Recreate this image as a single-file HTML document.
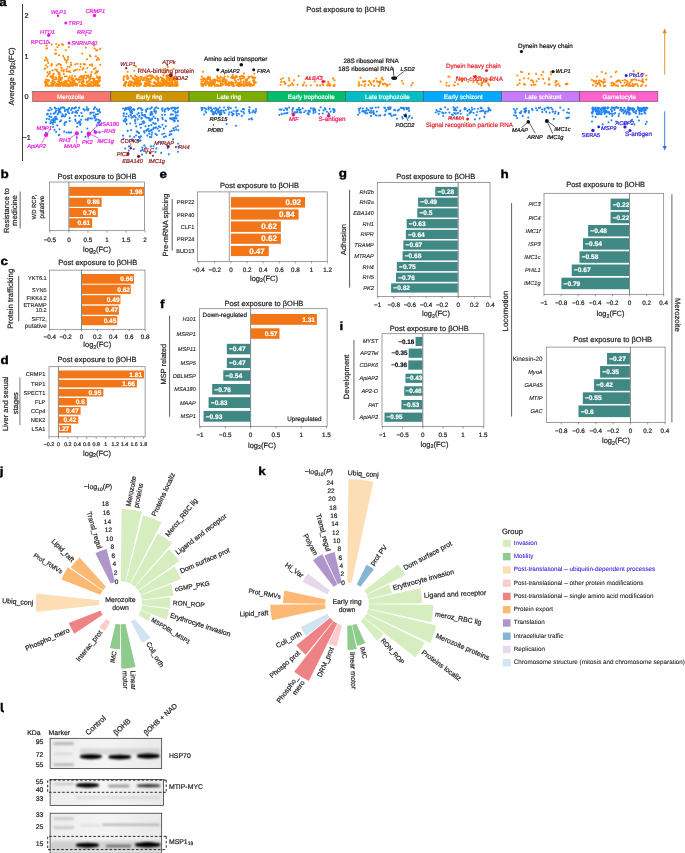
<!DOCTYPE html>
<html><head><meta charset="utf-8"><title>Figure</title>
<style>html,body{margin:0;padding:0;background:#fff;}body{width:685px;height:853px;overflow:hidden;font-family:"Liberation Sans", sans-serif;}svg{display:block;text-rendering:geometricPrecision;will-change:transform;transform:translateZ(0)}text{stroke-width:.2px}</style>
</head><body>
<svg width="685" height="853" viewBox="0 0 685 853" font-family='"Liberation Sans", sans-serif' fill="#222" stroke="#222" stroke-width="0">
<text transform="translate(-0.80 6.30) scale(1.16 1)" font-size="11.6" font-weight="bold" fill="#000" stroke="#000" style="stroke-width:.35px">a</text>
<text x="345.70" y="12.00" font-size="7.5" text-anchor="middle">Post exposure to βOHB</text>
<line x1="22.50" y1="4.00" x2="22.50" y2="161.00" stroke="#222" stroke-width="0.9"/>
<text x="26.60" y="18.00" font-size="7.2" text-anchor="middle">2</text>
<text x="26.60" y="58.50" font-size="7.2" text-anchor="middle">1</text>
<text x="26.60" y="99.00" font-size="7.2" text-anchor="middle">0</text>
<text x="26.60" y="139.50" font-size="7.2" text-anchor="middle">−1</text>
<text x="14.00" y="76.30" font-size="7.5" text-anchor="middle" transform="rotate(-90.00 14.00 76.30)">Average log<tspan font-size="70%" dy="1.5">2</tspan><tspan dy="-1.5">(FC)</tspan></text>
<rect x="32.70" y="91.30" width="78.15" height="10.30" fill="#F8766D" stroke="#444" stroke-width="0.5"/>
<text x="70.78" y="98.60" font-size="6.25" text-anchor="middle" fill="#fff" stroke="#fff">Merozoite</text>
<rect x="110.85" y="91.30" width="78.15" height="10.30" fill="#CD9600" stroke="#444" stroke-width="0.5"/>
<text x="149.12" y="98.60" font-size="6.25" text-anchor="middle" fill="#fff" stroke="#fff">Early ring</text>
<rect x="189.00" y="91.30" width="78.15" height="10.30" fill="#7CAE00" stroke="#444" stroke-width="0.5"/>
<text x="228.88" y="98.60" font-size="6.25" text-anchor="middle" fill="#fff" stroke="#fff">Late ring</text>
<rect x="267.15" y="91.30" width="78.15" height="10.30" fill="#00BE67" stroke="#444" stroke-width="0.5"/>
<text x="311.23" y="98.60" font-size="6.25" text-anchor="middle" fill="#fff" stroke="#fff">Early trophozoite</text>
<rect x="345.30" y="91.30" width="78.15" height="10.30" fill="#00BFC4" stroke="#444" stroke-width="0.5"/>
<text x="387.38" y="98.60" font-size="6.25" text-anchor="middle" fill="#fff" stroke="#fff">Late trophozoite</text>
<rect x="423.45" y="91.30" width="78.15" height="10.30" fill="#00A9FF" stroke="#444" stroke-width="0.5"/>
<text x="463.32" y="98.60" font-size="6.25" text-anchor="middle" fill="#fff" stroke="#fff">Early schizont</text>
<rect x="501.60" y="91.30" width="78.15" height="10.30" fill="#C77CFF" stroke="#444" stroke-width="0.5"/>
<text x="543.18" y="98.60" font-size="6.25" text-anchor="middle" fill="#fff" stroke="#fff">Late schizont</text>
<rect x="579.75" y="91.30" width="78.15" height="10.30" fill="#FF61CC" stroke="#444" stroke-width="0.5"/>
<text x="619.23" y="98.60" font-size="6.25" text-anchor="middle" fill="#fff" stroke="#fff">Gametocyte</text>
<path d="M53.1 83.9h0M48.7 80.4h0M65.1 81.7h0M72.9 85.8h0M68.8 85.9h0M49.7 85.7h0M90.7 82.9h0M57.1 85.4h0M97.4 80.7h0M66.8 81.3h0M47.3 76.2h0M60.8 77.8h0M51.3 85.3h0M90.1 84.0h0M77.1 85.1h0M65.4 80.6h0M48.2 81.6h0M56.2 85.8h0M68.5 80.1h0M77.3 84.0h0M61.4 82.6h0M83.6 78.6h0M76.7 84.6h0M93.4 81.9h0M60.7 79.5h0M51.3 76.1h0M86.8 83.0h0M71.9 85.3h0M81.9 85.9h0M76.6 79.0h0M62.2 77.6h0M77.8 79.9h0M70.1 81.3h0M97.3 78.0h0M81.7 82.4h0M83.7 85.8h0M100.0 80.5h0M60.5 78.3h0M81.9 83.3h0M70.4 85.9h0M51.2 85.1h0M87.5 85.8h0M58.5 85.4h0M93.2 83.3h0M69.7 85.7h0M93.9 81.6h0M92.8 78.3h0M67.8 84.3h0M93.9 83.6h0M53.1 76.4h0M57.6 85.1h0M71.7 84.7h0M59.3 81.1h0M68.0 86.0h0M76.2 83.5h0M83.1 76.5h0M79.1 82.0h0M47.7 80.1h0M88.1 77.2h0M89.1 77.6h0M66.9 83.2h0M80.0 85.6h0M48.4 85.8h0M53.7 84.8h0M47.6 83.7h0M53.1 86.0h0M64.9 85.6h0M93.4 85.9h0M53.0 80.9h0M64.0 84.5h0M51.5 83.5h0M100.0 77.9h0M71.6 82.5h0M50.4 85.6h0M59.4 83.7h0M53.7 78.2h0M97.6 85.9h0M52.9 81.8h0M46.2 81.7h0M99.2 81.8h0M83.4 77.7h0M65.1 84.4h0M87.7 85.1h0M88.1 81.8h0M57.1 83.8h0M99.5 78.4h0M89.6 77.9h0M85.9 78.3h0M73.5 84.7h0M46.3 83.6h0M60.2 85.9h0M83.2 84.4h0M69.6 76.5h0M99.7 76.7h0M65.0 76.5h0M57.3 84.8h0M56.1 84.9h0M94.8 80.7h0M71.4 78.0h0M89.2 80.4h0M81.5 85.7h0M88.2 77.1h0M71.3 79.2h0M88.6 85.1h0M89.3 83.8h0M66.7 76.2h0M97.4 83.2h0M54.2 79.5h0M53.1 85.4h0M89.6 77.2h0M90.7 85.3h0M81.3 76.1h0M75.2 83.6h0M45.5 85.4h0M80.9 76.3h0M96.7 81.8h0M93.2 82.8h0M56.4 78.2h0M61.0 84.5h0M77.3 84.6h0M68.0 84.4h0M95.3 85.4h0M70.2 83.6h0M95.0 81.2h0M95.8 83.0h0M74.3 82.1h0M45.7 81.9h0M54.9 82.8h0M89.2 86.0h0M71.0 85.1h0M75.7 79.5h0M73.5 83.9h0M88.3 81.5h0M75.9 85.5h0M60.1 84.5h0M73.0 78.9h0M87.0 81.5h0M69.4 77.1h0M72.8 80.9h0M83.3 82.0h0M74.4 82.6h0M97.1 82.4h0M93.5 79.8h0M59.1 76.7h0M97.2 81.5h0M52.3 78.0h0M69.3 85.4h0M58.1 85.7h0M82.0 85.7h0M94.6 78.8h0M84.6 85.2h0M52.7 80.3h0M98.5 77.5h0M97.7 84.8h0M71.8 83.2h0M91.0 76.0h0M68.7 85.2h0M63.6 82.0h0M62.4 84.9h0M45.8 79.6h0M69.2 81.5h0M63.1 85.9h0M73.2 80.7h0M99.5 85.8h0M98.8 78.7h0M59.5 85.5h0M88.1 85.9h0M51.9 84.4h0M95.4 82.9h0M59.1 78.3h0M95.9 85.3h0M83.7 81.4h0M47.9 85.6h0M68.4 80.0h0M96.9 85.7h0M89.3 80.6h0M92.3 85.7h0M92.7 85.7h0M63.6 82.6h0M96.3 81.6h0M51.9 84.4h0M58.0 81.8h0M53.7 85.5h0M55.9 85.8h0M61.7 84.0h0M60.8 79.1h0M54.6 82.1h0M45.7 83.7h0M45.6 84.5h0M75.4 79.4h0M71.1 85.0h0M50.6 76.8h0M68.8 78.3h0M91.1 82.2h0M72.9 83.2h0M99.4 80.0h0M91.0 83.7h0M80.1 79.7h0M64.0 83.1h0M51.9 85.8h0M85.9 85.7h0M53.8 84.5h0M91.5 85.7h0M82.0 77.6h0M58.2 84.3h0M70.3 84.2h0M69.5 85.2h0M98.2 84.4h0M75.1 76.2h0M98.4 84.6h0M64.5 84.0h0M65.9 86.0h0M72.7 82.4h0M72.8 84.9h0M59.4 86.0h0M66.9 85.6h0M46.0 85.9h0M57.7 84.1h0M74.1 81.2h0M81.3 79.2h0M93.6 79.6h0M62.8 83.3h0M53.0 76.1h0M80.5 79.5h0M91.2 85.8h0M79.6 77.3h0M89.9 79.4h0M73.8 85.3h0M91.2 82.1h0M90.7 78.5h0M94.4 81.2h0M83.3 80.0h0M46.4 84.7h0M64.8 85.4h0M91.2 85.5h0M79.6 81.5h0M82.6 80.7h0M44.9 82.3h0M86.3 78.6h0M74.5 82.1h0M48.4 80.3h0M58.7 79.4h0M59.5 85.7h0M56.1 79.5h0M99.0 79.3h0M66.0 82.2h0M82.7 82.4h0M79.0 79.0h0M49.0 80.5h0M58.8 85.3h0M61.6 79.3h0M45.4 81.4h0M59.7 85.8h0M83.2 80.2h0M60.9 80.1h0M70.6 82.0h0M51.3 82.5h0M55.8 77.3h0M96.8 76.2h0M70.2 85.9h0M98.6 78.3h0M59.7 82.7h0M97.3 84.8h0M77.1 84.8h0M73.9 85.3h0M52.1 76.5h0M73.0 78.3h0M83.8 77.4h0M94.7 84.7h0M46.1 82.3h0M72.1 75.8h0M61.5 70.4h0M63.8 74.1h0M91.5 72.0h0M86.5 75.8h0M51.4 65.7h0M84.4 64.6h0M60.8 64.9h0M66.6 71.3h0M77.5 63.7h0M68.5 71.5h0M47.4 72.5h0M91.1 74.6h0M96.8 72.4h0M59.5 72.8h0M55.3 69.6h0M97.9 71.3h0M89.9 65.1h0M95.5 68.2h0M75.3 64.4h0M47.5 67.1h0M69.8 67.0h0M80.6 66.7h0M47.4 72.4h0M51.8 64.6h0M63.8 70.1h0M85.8 72.2h0M59.2 64.0h0M61.4 67.9h0M66.6 69.1h0M53.7 73.8h0M95.1 73.3h0M56.9 69.8h0M100.2 64.8h0M52.5 70.4h0M49.7 73.5h0M49.8 71.7h0M59.1 72.9h0M94.1 68.9h0M67.7 66.7h0M73.9 70.8h0M63.5 71.3h0M60.1 75.1h0M51.7 64.1h0M79.7 69.7h0M56.7 65.4h0M58.5 72.6h0M69.5 71.0h0M91.9 64.3h0M45.9 65.2h0M84.2 75.5h0M71.0 65.0h0M44.7 68.7h0M96.3 71.1h0M92.3 65.8h0M58.5 64.0h0M53.3 74.5h0M82.7 69.5h0M84.9 64.4h0M87.3 68.0h0M75.4 70.3h0M88.2 75.4h0M95.9 73.0h0M61.6 68.0h0M58.7 74.3h0M83.6 68.1h0M48.6 74.5h0M77.1 69.5h0M57.1 71.1h0M45.3 68.5h0M70.3 72.2h0M80.6 64.2h0M71.2 65.1h0M58.4 73.0h0M83.9 64.2h0M45.9 57.5h0M82.2 53.6h0M59.0 55.2h0M96.2 50.2h0M46.6 59.1h0M68.1 56.9h0M55.7 49.9h0M85.8 47.6h0M56.1 53.5h0M62.0 44.1h0M57.5 47.1h0M87.0 59.2h0M97.7 57.7h0M55.1 53.7h0M67.9 59.2h0M97.5 50.2h0M66.6 60.7h0M98.9 59.4h0M47.6 60.8h0M66.6 62.5h0M93.9 45.5h0M100.2 48.9h0M63.0 44.8h0M96.8 59.9h0M46.5 48.6h0M65.8 50.2h0M63.2 56.1h0M44.9 60.3h0M64.3 58.0h0M51.6 44.4h0M56.2 44.2h0M90.4 56.5h0M68.8 47.1h0M71.0 62.7h0M95.9 56.2h0M65.0 59.8h0M46.4 45.5h0M89.9 55.4h0M47.0 48.2h0M48.2 63.0h0M59.0 45.1h0M94.7 48.6h0M173.1 84.4h0M152.4 85.8h0M136.1 82.9h0M166.2 85.8h0M153.5 86.0h0M130.8 75.9h0M156.7 84.8h0M158.6 81.8h0M132.6 77.8h0M139.6 83.9h0M172.3 85.8h0M162.7 78.2h0M169.8 86.0h0M148.7 78.7h0M148.0 78.8h0M128.7 84.6h0M125.0 84.6h0M164.6 83.6h0M169.9 79.4h0M137.7 79.2h0M147.1 81.2h0M152.0 78.1h0M158.6 84.3h0M134.9 75.6h0M123.7 76.8h0M136.0 84.3h0M175.4 78.7h0M141.0 78.7h0M141.1 76.8h0M173.4 84.5h0M161.4 80.2h0M177.3 79.8h0M169.6 82.2h0M170.6 79.4h0M163.2 82.5h0M140.0 81.0h0M157.5 84.7h0M173.5 85.7h0M124.3 85.2h0M174.5 85.5h0M130.7 83.5h0M125.2 85.9h0M158.1 79.4h0M163.9 79.4h0M155.7 85.7h0M168.3 83.3h0M172.4 77.7h0M171.1 85.7h0M175.4 76.3h0M134.3 85.5h0M124.8 85.5h0M168.0 77.3h0M168.8 80.2h0M138.8 80.2h0M128.3 85.5h0M134.3 78.6h0M146.4 83.8h0M137.1 85.9h0M162.7 84.1h0M140.7 83.3h0M150.9 75.6h0M157.3 77.2h0M145.8 85.9h0M165.9 82.5h0M162.1 83.5h0M134.9 81.4h0M127.9 77.1h0M132.3 77.7h0M134.1 86.0h0M177.3 78.5h0M150.2 86.0h0M167.2 81.9h0M150.4 84.9h0M169.1 83.5h0M175.4 84.3h0M134.8 84.1h0M150.6 79.3h0M158.3 85.5h0M166.7 85.7h0M166.6 79.4h0M142.6 80.3h0M144.8 82.9h0M127.6 76.7h0M124.3 76.7h0M137.5 84.8h0M150.7 76.5h0M172.0 83.2h0M148.5 84.5h0M164.8 81.5h0M158.8 78.6h0M141.0 83.5h0M169.8 85.2h0M164.1 79.8h0M147.3 85.1h0M155.1 78.3h0M148.6 85.4h0M136.1 76.8h0M139.6 84.9h0M169.8 79.3h0M131.5 85.2h0M141.0 84.4h0M131.8 81.6h0M133.4 83.7h0M163.4 75.4h0M176.4 85.5h0M144.2 85.5h0M167.1 75.3h0M147.1 78.9h0M158.4 84.9h0M134.3 85.5h0M124.7 83.1h0M166.9 83.0h0M150.7 79.4h0M148.6 80.2h0M156.4 85.3h0M164.1 82.9h0M146.8 76.4h0M164.5 80.9h0M135.6 82.7h0M171.8 79.0h0M161.8 78.3h0M160.7 77.2h0M148.1 80.1h0M157.8 83.8h0M146.2 85.6h0M162.5 78.2h0M136.8 80.3h0M148.2 82.7h0M145.6 80.4h0M174.6 79.7h0M159.3 85.0h0M144.5 78.3h0M177.1 81.9h0M153.1 85.9h0M166.4 85.1h0M151.7 75.9h0M154.8 85.5h0M162.8 81.3h0M158.4 81.7h0M151.9 77.6h0M175.6 82.8h0M160.9 84.7h0M165.3 83.0h0M177.6 85.4h0M126.0 83.4h0M145.1 84.2h0M146.1 85.9h0M161.7 82.7h0M137.6 83.4h0M164.1 84.6h0M152.2 75.9h0M167.5 84.7h0M134.6 83.0h0M166.1 85.4h0M158.1 77.8h0M154.1 82.2h0M176.5 84.6h0M158.4 83.4h0M168.3 77.7h0M139.2 82.2h0M129.8 81.3h0M142.6 77.5h0M137.7 77.3h0M137.0 83.2h0M133.2 82.7h0M163.0 86.0h0M136.5 84.1h0M149.5 83.9h0M158.3 82.6h0M143.0 79.9h0M170.4 76.1h0M168.9 85.8h0M166.5 76.5h0M169.1 85.3h0M123.7 80.2h0M175.8 86.0h0M136.8 79.9h0M130.8 85.5h0M166.1 84.5h0M131.3 83.5h0M166.9 76.5h0M172.4 85.1h0M166.3 80.5h0M172.6 79.8h0M169.5 78.1h0M161.4 84.8h0M164.1 81.5h0M172.0 82.5h0M137.6 81.2h0M130.6 84.5h0M126.1 81.9h0M130.9 82.2h0M150.6 81.9h0M170.9 81.4h0M169.6 86.0h0M154.2 82.2h0M169.6 79.8h0M146.2 83.2h0M127.0 75.6h0M158.3 80.2h0M156.8 85.9h0M174.7 79.6h0M177.5 83.7h0M149.8 81.7h0M124.7 76.6h0M157.6 79.1h0M170.8 83.6h0M149.3 83.3h0M165.7 81.5h0M147.1 84.7h0M153.7 82.7h0M139.1 77.6h0M145.3 77.6h0M138.0 81.8h0M177.1 81.8h0M166.9 79.9h0M140.5 83.7h0M155.5 84.0h0M166.5 80.2h0M163.1 85.9h0M153.2 76.8h0M139.6 85.8h0M133.4 86.0h0M156.7 76.2h0M166.8 79.9h0M156.9 76.4h0M157.7 80.4h0M156.0 79.4h0M134.7 79.6h0M148.3 79.8h0M128.5 78.5h0M124.9 85.0h0M173.7 78.3h0M143.4 79.9h0M166.6 77.7h0M137.2 81.1h0M146.3 83.9h0M146.8 83.8h0M174.8 80.1h0M154.4 85.8h0M129.5 85.9h0M154.9 77.8h0M147.7 76.3h0M144.4 85.9h0M175.0 80.7h0M149.3 75.3h0M128.5 82.8h0M134.7 80.1h0M123.7 85.2h0M160.9 86.0h0M176.6 85.4h0M171.2 85.6h0M123.8 85.4h0M136.3 79.1h0M133.3 78.9h0M165.9 85.8h0M170.5 79.2h0M127.5 78.9h0M162.3 80.3h0M174.7 82.3h0M176.5 84.4h0M123.5 79.1h0M159.1 85.9h0M127.3 77.7h0M163.4 83.8h0M170.8 85.1h0M126.2 82.0h0M154.8 83.3h0M160.5 82.5h0M167.2 85.2h0M158.7 83.3h0M146.1 80.3h0M166.6 83.1h0M166.5 75.9h0M139.1 81.0h0M177.1 85.8h0M168.9 79.3h0M156.6 83.6h0M169.1 75.4h0M140.0 80.6h0M172.3 82.6h0M161.0 83.2h0M172.7 80.6h0M138.6 77.9h0M137.5 86.0h0M155.5 82.7h0M172.2 77.7h0M169.2 85.8h0M171.1 77.8h0M138.1 81.0h0M167.8 67.1h0M173.7 68.7h0M127.6 71.8h0M167.2 69.9h0M164.6 73.2h0M135.9 66.4h0M160.6 69.4h0M134.3 70.7h0M250.6 85.8h0M254.4 81.2h0M235.5 82.8h0M203.4 84.5h0M248.6 76.8h0M251.0 84.0h0M217.9 78.4h0M254.4 81.0h0M253.9 82.2h0M222.7 84.6h0M213.3 79.6h0M249.7 84.0h0M245.1 82.3h0M210.7 84.6h0M211.4 83.6h0M217.2 76.3h0M207.4 81.5h0M222.5 81.8h0M204.6 83.1h0M247.0 85.4h0M214.6 83.6h0M216.8 85.0h0M202.9 84.6h0M220.0 80.3h0M240.3 85.2h0M216.0 85.6h0M208.1 78.1h0M247.5 82.7h0M209.9 78.5h0M241.2 83.6h0M254.3 83.4h0M253.9 84.9h0M213.6 82.1h0M208.3 82.6h0M215.5 79.8h0M233.7 77.2h0M214.7 83.5h0M212.8 80.9h0M207.8 77.6h0M231.2 82.0h0M243.9 84.4h0M237.6 83.3h0M218.3 81.4h0M205.8 83.3h0M248.4 85.1h0M237.9 83.9h0M232.3 85.5h0M228.8 83.5h0M204.7 84.1h0M213.6 84.0h0M240.9 85.4h0M223.4 84.3h0M244.1 77.1h0M248.9 77.5h0M216.4 85.4h0M238.8 85.9h0M220.6 80.3h0M237.7 83.0h0M214.8 79.8h0M220.6 78.0h0M211.1 80.7h0M251.8 85.5h0M240.7 79.4h0M203.2 85.9h0M212.0 85.2h0M222.2 84.1h0M218.3 85.9h0M211.0 80.6h0M232.7 78.1h0M215.2 79.6h0M239.1 82.8h0M201.1 83.7h0M244.2 78.1h0M203.4 84.2h0M234.8 77.9h0M214.6 85.8h0M245.0 85.5h0M251.9 84.8h0M205.8 79.2h0M222.9 79.9h0M247.1 79.2h0M206.0 84.3h0M224.6 76.6h0M239.5 76.8h0M247.2 79.4h0M226.2 80.7h0M239.9 85.8h0M229.5 82.9h0M208.1 76.9h0M203.4 79.1h0M245.8 79.8h0M231.4 84.4h0M236.5 76.3h0M214.9 81.7h0M220.9 85.8h0M212.2 83.1h0M208.6 84.0h0M238.3 79.7h0M214.5 84.6h0M225.8 82.0h0M220.6 76.7h0M250.2 84.1h0M232.3 85.3h0M246.4 83.8h0M243.3 81.6h0M238.1 85.1h0M226.7 81.0h0M247.3 79.0h0M217.1 85.5h0M212.5 83.5h0M216.6 85.8h0M240.0 84.9h0M207.3 82.7h0M227.1 83.9h0M210.4 83.5h0M201.6 85.7h0M242.8 76.0h0M240.9 85.7h0M232.4 76.1h0M228.2 85.5h0M211.6 82.8h0M201.5 81.7h0M236.9 77.0h0M253.0 80.7h0M215.0 80.4h0M208.7 84.6h0M244.1 85.9h0M217.5 78.0h0M236.5 85.0h0M252.6 78.0h0M244.7 85.1h0M242.3 78.2h0M211.3 83.9h0M218.8 78.2h0M231.7 83.5h0M247.3 83.5h0M203.3 84.6h0M236.0 81.4h0M240.3 78.3h0M253.6 77.2h0M228.8 82.2h0M217.7 85.2h0M205.5 81.2h0M210.1 80.0h0M255.0 82.7h0M203.2 85.6h0M211.6 82.8h0M201.2 79.5h0M248.6 78.0h0M224.7 78.7h0M237.8 84.2h0M224.4 82.0h0M225.4 83.8h0M247.0 80.2h0M210.2 77.2h0M225.7 84.1h0M220.4 81.4h0M205.7 84.9h0M226.6 83.9h0M251.6 76.3h0M255.2 77.7h0M235.5 76.4h0M204.3 78.4h0M234.9 80.1h0M232.8 84.1h0M227.8 76.5h0M217.7 80.5h0M250.3 83.7h0M211.5 85.9h0M225.9 80.1h0M237.8 85.7h0M233.3 83.4h0M230.5 83.0h0M223.1 81.4h0M211.0 85.5h0M231.5 77.4h0M249.0 85.5h0M206.3 84.5h0M215.0 81.8h0M231.8 82.3h0M232.9 84.7h0M229.6 85.5h0M205.5 81.2h0M205.1 83.1h0M249.1 82.8h0M240.8 81.6h0M207.4 79.1h0M241.2 76.0h0M247.2 85.6h0M210.5 83.2h0M232.3 76.4h0M208.6 78.9h0M204.2 78.9h0M221.7 84.6h0M234.1 85.9h0M217.7 84.8h0M224.7 79.7h0M235.6 77.4h0M232.3 77.6h0M249.5 77.0h0M242.5 85.1h0M243.5 83.7h0M246.9 80.1h0M221.8 85.4h0M253.8 79.4h0M203.4 79.6h0M206.5 81.0h0M245.7 81.6h0M252.5 85.5h0M215.2 80.1h0M225.9 85.0h0M233.4 78.1h0M202.2 85.5h0M245.6 85.5h0M231.8 85.0h0M239.2 84.2h0M209.0 83.4h0M231.0 77.6h0M246.0 80.0h0M201.8 76.6h0M209.4 83.7h0M249.6 82.1h0M203.0 78.6h0M246.5 85.0h0M222.8 80.1h0M209.8 82.4h0M222.9 78.0h0M235.0 77.6h0M219.3 85.7h0M250.8 84.8h0M203.4 81.1h0M221.1 85.1h0M233.1 82.5h0M220.7 83.3h0M233.2 86.0h0M202.1 83.8h0M255.9 82.6h0M209.1 85.8h0M216.2 80.2h0M228.8 84.3h0M232.7 74.8h0M254.3 73.7h0M202.9 71.8h0M243.9 73.6h0M293.2 85.1h0M303.3 84.9h0M290.5 85.1h0M314.9 81.3h0M334.5 84.7h0M310.8 85.2h0M327.2 85.5h0M294.0 80.3h0M324.9 81.4h0M297.6 84.8h0M328.7 83.5h0M317.1 85.4h0M304.4 82.6h0M328.3 82.8h0M328.3 85.2h0M322.5 84.3h0M289.3 80.4h0M334.5 80.4h0M280.5 84.7h0M333.4 85.7h0M329.9 86.0h0M320.1 85.5h0M288.5 85.7h0M284.2 81.9h0M330.3 84.5h0M328.2 81.7h0M281.0 79.3h0M323.2 85.1h0M281.3 81.9h0M292.0 83.3h0M285.0 83.9h0M334.3 85.9h0M328.0 84.6h0M306.3 85.6h0M303.0 85.6h0M317.3 85.4h0M320.2 85.5h0M285.4 83.4h0M306.8 77.9h0M298.6 76.1h0M333.0 78.4h0M319.9 76.2h0M289.0 78.2h0M283.0 78.2h0M307.5 79.0h0M310.1 77.8h0M376.9 81.4h0M389.5 84.4h0M411.4 85.4h0M359.3 84.5h0M378.4 81.9h0M384.9 83.5h0M373.9 80.7h0M383.0 83.9h0M380.4 81.2h0M371.1 83.8h0M403.2 83.6h0M379.7 82.0h0M378.8 85.9h0M363.9 81.8h0M361.6 85.2h0M363.0 81.4h0M358.8 85.8h0M358.8 82.4h0M380.6 82.4h0M412.8 83.1h0M365.4 81.0h0M386.1 84.7h0M364.6 86.0h0M371.5 84.8h0M369.1 81.1h0M374.2 85.9h0M401.9 81.0h0M368.5 85.1h0M387.2 85.9h0M383.1 84.4h0M379.7 83.7h0M358.7 85.3h0M387.0 84.8h0M365.0 84.2h0M373.5 81.6h0M370.0 82.2h0M382.1 77.6h0M360.5 77.8h0M381.5 78.8h0M383.1 79.7h0M376.2 78.5h0M458.1 84.2h0M449.1 85.8h0M473.2 82.0h0M454.6 85.5h0M446.5 85.6h0M453.9 85.2h0M490.9 80.1h0M462.1 81.6h0M478.8 83.7h0M477.3 80.7h0M446.5 82.7h0M482.5 82.8h0M440.6 81.6h0M454.9 82.2h0M489.2 85.5h0M476.9 82.5h0M481.6 85.6h0M485.8 80.4h0M481.8 82.0h0M468.3 81.5h0M481.4 84.1h0M483.9 81.7h0M488.9 84.9h0M488.1 83.5h0M489.3 79.4h0M449.5 76.7h0M448.4 76.5h0M460.9 79.1h0M462.9 78.9h0M473.6 76.2h0M457.3 77.0h0M479.6 76.7h0M567.4 83.9h0M524.0 78.3h0M566.1 84.4h0M531.5 85.1h0M519.6 83.4h0M535.5 84.7h0M567.2 83.8h0M525.0 84.7h0M538.7 78.9h0M549.1 79.7h0M531.1 80.3h0M555.7 85.4h0M544.7 83.2h0M555.5 81.3h0M533.8 84.6h0M543.1 78.8h0M548.7 84.6h0M556.5 84.7h0M559.6 85.9h0M533.3 82.3h0M528.4 78.5h0M517.5 84.9h0M555.5 82.5h0M536.6 81.3h0M519.8 80.0h0M549.5 84.4h0M548.9 78.2h0M556.7 81.1h0M565.9 83.8h0M532.6 80.6h0M558.4 83.8h0M523.9 84.1h0M543.2 71.9h0M550.9 74.3h0M521.0 71.7h0M517.3 75.5h0M541.5 75.0h0M550.8 72.0h0M536.1 73.9h0M528.8 73.9h0M557.5 72.1h0M522.0 72.1h0M611.5 85.4h0M636.5 80.0h0M597.4 83.7h0M600.3 85.7h0M618.0 81.1h0M642.5 79.2h0M618.3 81.0h0M598.9 80.7h0M623.1 85.7h0M603.4 83.3h0M592.9 85.0h0M631.3 80.0h0M646.3 79.6h0M632.5 83.8h0M636.9 84.2h0M599.2 80.6h0M603.7 86.0h0M612.8 82.7h0M638.0 86.0h0M617.6 81.1h0M641.2 85.9h0M595.7 83.1h0M626.5 84.6h0M618.7 80.2h0M603.2 82.3h0M642.2 85.0h0M597.5 84.2h0M598.8 82.7h0M617.1 85.3h0M627.2 82.7h0M616.2 81.7h0M632.1 85.8h0M617.9 85.9h0M629.2 84.1h0M605.1 81.7h0M630.3 82.2h0M599.6 83.6h0M625.1 80.0h0M605.0 85.8h0M604.5 79.2h0M635.6 84.1h0M627.0 80.7h0M593.9 81.4h0M646.1 85.7h0M593.9 80.9h0M605.1 85.9h0M604.0 79.7h0M643.5 82.0h0M642.9 82.3h0M600.3 84.9h0M633.9 85.9h0M645.9 85.7h0M602.2 81.7h0M600.8 80.9h0M597.6 83.3h0M641.3 81.1h0M591.9 79.9h0M622.7 80.5h0M619.7 80.7h0M624.8 82.5h0M596.1 80.9h0M622.1 85.9h0M613.8 84.8h0M633.2 86.0h0M637.9 85.9h0M617.2 80.8h0M627.9 85.6h0M615.6 85.2h0M646.1 85.7h0M611.4 83.0h0M632.4 85.7h0M639.0 80.5h0M612.2 85.7h0M634.2 84.7h0M625.5 85.5h0M634.5 79.3h0M595.9 86.0h0M630.3 85.6h0M620.7 82.6h0M614.4 83.7h0M627.8 82.5h0M632.5 79.9h0M642.6 81.0h0M631.6 80.6h0M629.6 85.9h0M615.7 72.2h0M601.8 72.0h0M616.3 71.5h0M605.8 73.4h0M611.1 76.7h0M597.0 76.5h0M646.3 75.5h0M643.6 73.8h0M638.3 72.9h0M633.6 71.0h0" stroke="#FF8C0A" stroke-width="2.15" stroke-linecap="round" fill="none"/>
<path d="M59.9 111.5h0M79.0 122.7h0M84.6 110.4h0M60.0 111.2h0M86.8 107.3h0M80.0 121.9h0M46.0 122.4h0M71.1 110.0h0M97.8 122.7h0M58.7 112.3h0M72.2 113.0h0M54.9 122.1h0M85.8 119.6h0M87.7 120.0h0M62.9 116.0h0M64.8 111.2h0M49.1 119.2h0M86.6 109.5h0M48.3 110.2h0M75.5 107.6h0M99.3 111.3h0M99.7 121.2h0M49.4 110.4h0M72.4 108.2h0M69.6 117.9h0M67.9 110.0h0M82.2 116.2h0M91.8 118.6h0M51.4 117.0h0M61.0 120.4h0M65.5 115.3h0M55.8 118.4h0M58.4 110.2h0M93.9 108.9h0M62.9 115.5h0M99.9 112.4h0M57.6 114.3h0M81.1 119.7h0M50.4 123.3h0M90.3 113.7h0M95.6 120.4h0M61.0 107.6h0M55.2 108.5h0M77.2 123.0h0M65.4 122.1h0M69.7 120.9h0M88.0 110.3h0M50.6 122.4h0M79.2 115.8h0M65.2 109.7h0M56.1 108.7h0M78.1 110.3h0M56.0 116.8h0M62.9 107.4h0M55.0 117.3h0M56.0 111.1h0M75.2 119.5h0M50.3 107.8h0M75.3 112.4h0M49.8 116.6h0M83.4 109.0h0M60.5 112.6h0M97.7 111.0h0M76.2 111.1h0M67.9 111.8h0M100.2 120.8h0M55.7 111.9h0M56.0 118.2h0M94.9 107.4h0M90.4 112.9h0M93.8 112.6h0M53.7 113.5h0M75.4 107.4h0M95.3 116.6h0M79.3 108.1h0M72.8 112.0h0M60.5 108.8h0M96.2 114.5h0M72.0 108.3h0M98.5 119.7h0M51.7 109.5h0M99.0 122.4h0M47.7 113.8h0M66.3 122.0h0M79.2 121.6h0M53.6 120.1h0M57.1 119.3h0M91.8 112.6h0M54.9 120.1h0M66.9 109.7h0M66.0 114.4h0M58.4 108.5h0M94.6 118.2h0M76.0 107.6h0M46.8 118.8h0M51.3 120.3h0M75.3 115.9h0M61.7 116.4h0M77.1 112.8h0M81.4 112.9h0M69.1 113.2h0M79.1 107.5h0M57.8 114.0h0M88.1 118.9h0M54.7 113.4h0M50.7 113.7h0M68.7 108.6h0M69.3 108.1h0M47.0 114.3h0M49.3 116.5h0M88.0 118.3h0M47.7 114.3h0M65.7 114.2h0M52.3 122.5h0M100.1 120.7h0M90.1 118.3h0M99.3 109.4h0M97.9 114.0h0M53.9 121.8h0M96.5 119.4h0M64.2 107.9h0M53.5 118.7h0M60.0 121.5h0M52.7 119.9h0M95.9 114.2h0M59.3 109.6h0M62.5 114.2h0M54.8 107.6h0M96.8 109.0h0M94.5 117.3h0M88.4 109.1h0M74.2 108.4h0M64.7 116.5h0M75.6 121.0h0M93.8 115.5h0M100.0 125.0h0M66.6 132.5h0M59.4 134.8h0M76.8 137.6h0M87.3 128.6h0M54.5 129.8h0M47.4 134.1h0M58.8 135.1h0M99.5 132.6h0M81.6 131.8h0M44.8 128.0h0M53.0 124.0h0M68.8 132.3h0M94.5 130.8h0M57.3 125.4h0M45.9 132.8h0M64.5 123.6h0M64.6 125.0h0M77.2 126.7h0M56.1 131.9h0M71.1 132.4h0M96.8 125.4h0M53.0 127.0h0M80.2 124.9h0M88.2 135.9h0M59.4 129.2h0M80.6 123.7h0M64.2 131.5h0M69.4 132.7h0M85.5 136.8h0M164.7 109.9h0M148.4 117.9h0M167.7 108.0h0M135.8 117.6h0M172.8 114.5h0M151.9 119.5h0M155.6 112.9h0M133.6 109.1h0M161.9 109.0h0M154.3 111.3h0M151.6 111.9h0M125.3 108.6h0M143.7 121.4h0M158.1 108.2h0M131.5 117.8h0M142.0 114.8h0M124.0 113.6h0M178.0 107.5h0M149.9 119.2h0M137.4 114.3h0M146.6 117.7h0M165.5 120.6h0M176.5 118.4h0M125.0 109.9h0M132.9 109.2h0M125.7 108.0h0M171.3 114.2h0M175.6 112.7h0M126.4 119.9h0M145.0 114.8h0M176.2 108.3h0M154.3 109.9h0M176.1 115.4h0M144.7 115.9h0M131.7 112.5h0M178.0 120.9h0M125.0 109.5h0M142.4 109.9h0M173.2 119.8h0M125.5 118.7h0M162.3 117.8h0M177.7 115.5h0M130.9 107.7h0M175.1 117.3h0M139.5 116.0h0M165.0 114.7h0M140.9 108.2h0M129.8 109.9h0M132.2 113.0h0M130.8 109.7h0M123.6 116.0h0M133.7 116.7h0M174.5 107.5h0M174.8 109.5h0M172.3 119.2h0M147.7 108.5h0M174.5 108.1h0M157.8 118.8h0M141.8 112.6h0M149.4 118.4h0M130.8 115.3h0M126.0 109.5h0M153.6 116.6h0M171.3 108.6h0M145.8 110.0h0M137.9 108.7h0M141.5 118.7h0M150.2 108.8h0M173.1 110.7h0M177.3 108.3h0M172.7 107.7h0M134.6 115.9h0M138.8 113.0h0M134.1 109.9h0M178.0 111.3h0M174.3 121.5h0M139.0 108.1h0M126.0 119.7h0M139.2 116.8h0M123.7 121.1h0M141.8 118.2h0M123.0 108.5h0M152.2 118.6h0M147.1 109.1h0M135.0 120.0h0M130.5 114.4h0M165.7 109.0h0M133.8 116.6h0M127.7 107.9h0M150.4 114.9h0M134.3 110.1h0M162.2 115.0h0M155.3 118.2h0M126.5 109.2h0M145.6 116.9h0M125.9 116.8h0M141.5 118.2h0M171.0 118.8h0M123.7 113.2h0M149.4 119.9h0M137.7 119.3h0M169.1 109.1h0M131.9 111.4h0M156.0 111.4h0M151.8 107.3h0M151.5 112.5h0M162.6 108.3h0M171.0 118.3h0M162.4 110.7h0M164.7 111.6h0M171.4 107.8h0M150.4 120.7h0M152.4 113.5h0M124.0 113.8h0M135.3 120.9h0M128.6 109.0h0M168.3 109.8h0M128.2 107.5h0M133.7 116.4h0M156.2 107.4h0M152.0 114.4h0M128.6 116.4h0M162.8 119.2h0M129.7 107.6h0M150.7 113.2h0M129.6 110.2h0M130.5 111.9h0M170.8 114.7h0M154.7 108.6h0M132.0 117.2h0M175.0 118.5h0M146.2 111.7h0M152.1 118.7h0M175.2 111.8h0M141.7 117.7h0M141.5 109.7h0M177.5 112.3h0M173.6 118.1h0M170.0 118.3h0M151.6 107.7h0M174.8 120.8h0M146.3 109.8h0M143.1 115.3h0M126.7 113.7h0M150.9 112.3h0M130.6 107.4h0M166.1 121.0h0M158.1 120.4h0M172.1 118.2h0M124.8 119.5h0M137.6 131.9h0M138.1 132.5h0M174.3 130.3h0M136.8 131.6h0M147.0 129.9h0M138.9 136.9h0M158.9 126.4h0M155.9 123.5h0M151.4 137.0h0M148.8 125.8h0M131.1 130.1h0M130.2 123.5h0M145.5 126.3h0M136.4 126.2h0M153.3 122.9h0M156.8 135.1h0M159.0 130.7h0M162.4 124.8h0M153.3 129.0h0M148.9 131.4h0M136.3 126.5h0M151.4 125.1h0M155.4 127.7h0M142.5 121.7h0M136.1 135.5h0M150.2 130.5h0M177.8 126.1h0M165.8 126.3h0M126.6 124.1h0M147.3 135.6h0M144.4 122.5h0M163.8 128.6h0M135.4 123.3h0M164.0 137.0h0M141.6 124.0h0M160.4 127.2h0M170.2 131.5h0M151.7 134.8h0M164.2 133.5h0M149.3 133.8h0M162.3 134.2h0M129.9 136.3h0M123.1 135.6h0M155.5 133.9h0M176.4 129.6h0M146.1 130.8h0M171.4 134.2h0M144.0 131.3h0M148.3 128.8h0M139.2 133.2h0M153.8 127.8h0M140.8 127.7h0M170.1 134.3h0M147.6 129.6h0M139.8 124.5h0M154.9 123.8h0M127.7 130.9h0M140.9 136.4h0M169.5 135.2h0M134.2 137.0h0M173.5 128.4h0M125.5 121.7h0M150.5 130.7h0M165.9 136.4h0M178.4 130.2h0M151.6 129.9h0M144.5 132.6h0M155.9 127.3h0M175.6 127.2h0M152.1 132.5h0M143.7 123.1h0M154.1 128.0h0M171.8 130.8h0M149.9 137.1h0M157.6 128.6h0M142.0 154.6h0M168.3 146.7h0M140.6 140.6h0M168.8 154.3h0M129.0 146.4h0M161.2 152.9h0M178.0 151.7h0M146.3 152.8h0M139.0 140.4h0M150.9 146.4h0M133.0 140.9h0M156.4 148.4h0M178.2 143.7h0M125.2 148.5h0M166.7 144.7h0M161.3 142.9h0M139.8 137.8h0M155.5 152.0h0M133.8 149.1h0M153.6 146.2h0M158.8 142.2h0M178.3 146.7h0M145.7 147.5h0M131.6 139.8h0M128.8 150.6h0M132.3 139.4h0M168.7 146.6h0M167.7 148.1h0M123.5 138.8h0M140.8 150.8h0M142.5 149.9h0M137.7 140.6h0M173.1 139.4h0M142.3 147.6h0M144.3 145.4h0M244.1 113.5h0M236.3 111.4h0M216.7 109.4h0M249.6 112.8h0M238.9 114.1h0M243.5 109.0h0M229.3 112.3h0M220.5 111.5h0M223.6 110.8h0M219.8 107.5h0M256.0 109.1h0M221.4 110.2h0M214.1 108.6h0M208.5 109.3h0M249.5 107.3h0M225.8 110.0h0M217.8 110.9h0M204.7 108.1h0M218.2 109.0h0M231.7 112.2h0M219.9 114.0h0M233.5 113.9h0M210.9 107.6h0M256.0 111.0h0M244.1 109.3h0M249.3 109.9h0M228.0 107.6h0M216.4 113.7h0M202.3 108.7h0M215.9 108.1h0M213.1 112.0h0M212.1 109.6h0M249.1 111.2h0M211.9 111.6h0M254.6 112.3h0M205.4 111.2h0M249.7 112.9h0M208.6 109.2h0M230.9 108.2h0M236.6 113.5h0M212.8 113.9h0M242.7 109.1h0M223.6 111.6h0M219.8 111.8h0M224.1 107.5h0M235.9 107.5h0M228.5 109.2h0M215.3 111.2h0M201.8 110.1h0M232.4 113.9h0M204.1 114.5h0M241.3 111.3h0M206.2 109.1h0M208.9 108.0h0M206.0 112.6h0M224.6 113.0h0M233.7 110.7h0M237.6 110.8h0M219.4 111.2h0M215.3 112.3h0M243.5 112.1h0M218.2 112.6h0M255.4 112.6h0M216.5 110.0h0M253.4 110.6h0M201.5 107.9h0M237.5 110.2h0M221.2 112.6h0M213.7 114.5h0M206.0 112.5h0M208.5 107.4h0M228.9 107.5h0M211.1 110.8h0M221.3 114.1h0M210.9 108.0h0M252.3 112.3h0M202.6 108.1h0M214.5 112.7h0M228.8 114.5h0M220.2 111.5h0M226.6 124.0h0M251.3 118.4h0M241.8 115.9h0M236.9 115.4h0M249.1 119.3h0M232.4 115.3h0M252.1 119.4h0M235.9 125.7h0M279.7 109.5h0M315.5 112.1h0M309.7 110.9h0M333.8 112.2h0M319.1 113.8h0M296.9 109.8h0M333.3 109.9h0M300.6 109.7h0M287.1 109.8h0M279.4 115.0h0M330.7 111.5h0M313.1 108.7h0M292.5 109.6h0M285.6 108.3h0M322.8 113.5h0M281.9 114.2h0M297.2 112.2h0M309.7 111.8h0M333.2 109.1h0M320.7 107.3h0M307.5 113.6h0M334.5 111.3h0M314.2 108.6h0M300.2 112.6h0M301.0 112.4h0M313.3 110.8h0M297.1 112.1h0M309.4 111.6h0M313.2 108.5h0M329.7 108.8h0M319.3 110.3h0M305.7 110.7h0M287.1 108.5h0M308.6 114.3h0M308.5 110.8h0M292.4 113.3h0M324.9 108.2h0M314.8 110.2h0M328.9 113.4h0M281.6 113.8h0M325.5 109.6h0M286.0 113.3h0M293.1 108.1h0M299.0 107.8h0M308.2 113.2h0M284.0 110.2h0M334.6 109.7h0M304.2 112.2h0M323.6 110.4h0M287.5 112.8h0M299.6 112.1h0M292.4 110.7h0M298.1 109.6h0M280.1 109.6h0M310.9 108.4h0M289.1 107.5h0M294.4 112.4h0M292.6 109.2h0M284.2 113.5h0M326.9 111.7h0M302.7 108.4h0M313.5 113.1h0M281.6 109.6h0M299.6 110.1h0M295.6 112.4h0M315.2 109.8h0M373.7 112.5h0M404.0 108.5h0M408.4 108.1h0M362.9 108.5h0M400.9 107.8h0M380.4 115.3h0M371.6 112.4h0M395.5 114.8h0M360.5 108.2h0M359.6 112.7h0M373.6 114.1h0M389.7 108.7h0M388.5 109.4h0M408.0 108.1h0M404.1 109.4h0M401.8 108.1h0M379.1 115.6h0M378.4 107.4h0M369.7 112.2h0M362.5 111.3h0M397.8 110.6h0M395.1 110.3h0M403.4 107.9h0M408.7 107.9h0M409.6 115.8h0M373.5 111.1h0M399.1 109.6h0M409.0 110.9h0M384.3 107.8h0M390.6 114.4h0M362.2 111.3h0M372.4 108.1h0M404.3 114.7h0M408.8 108.7h0M390.6 107.4h0M376.5 115.5h0M393.8 115.2h0M375.8 107.5h0M371.1 110.5h0M367.3 113.2h0M373.9 113.6h0M388.4 107.6h0M388.0 107.8h0M390.4 113.6h0M359.2 110.6h0M362.7 111.0h0M364.6 112.3h0M376.9 111.6h0M394.2 109.8h0M366.7 108.2h0M375.8 115.2h0M405.9 114.2h0M365.6 110.7h0M406.2 107.8h0M384.9 107.9h0M363.8 111.2h0M366.4 110.6h0M385.5 111.2h0M368.3 109.8h0M368.6 110.1h0M370.6 108.0h0M385.2 114.5h0M358.1 114.7h0M384.5 115.2h0M389.0 113.7h0M370.1 112.7h0M365.9 113.3h0M359.0 108.9h0M386.1 110.0h0M406.9 109.2h0M389.5 107.7h0M390.4 108.7h0M396.9 118.7h0M371.0 116.1h0M412.0 118.0h0M391.7 116.0h0M402.6 118.4h0M402.4 117.1h0M408.5 117.5h0M409.6 115.9h0M487.9 111.6h0M458.1 112.7h0M471.8 107.7h0M454.3 112.8h0M482.0 110.9h0M435.7 112.5h0M436.4 110.1h0M480.7 107.8h0M469.1 109.6h0M454.1 109.9h0M455.1 108.3h0M469.9 112.9h0M440.3 108.8h0M474.5 108.7h0M472.2 109.8h0M442.2 112.6h0M437.8 111.6h0M445.7 112.7h0M488.7 108.7h0M447.9 109.3h0M469.4 113.3h0M457.4 113.3h0M488.6 110.2h0M490.5 110.3h0M481.7 108.2h0M464.8 108.0h0M445.2 107.3h0M460.7 113.7h0M449.4 112.6h0M441.1 109.2h0M483.4 110.6h0M456.4 110.3h0M485.2 113.6h0M439.7 111.5h0M460.2 111.1h0M455.6 113.8h0M470.6 111.4h0M464.5 109.4h0M485.9 111.5h0M455.7 110.2h0M438.6 114.0h0M473.5 112.8h0M460.4 110.6h0M485.0 112.1h0M477.2 112.0h0M453.5 107.4h0M488.5 107.9h0M443.5 113.3h0M467.5 110.9h0M457.3 107.5h0M471.1 112.1h0M477.9 108.7h0M465.7 108.8h0M489.9 109.7h0M480.2 111.3h0M456.6 117.8h0M474.9 119.3h0M450.9 117.8h0M467.5 115.1h0M479.6 118.6h0M443.2 116.0h0M484.3 116.9h0M476.5 115.1h0M452.8 115.1h0M452.0 114.5h0M555.6 111.5h0M563.6 110.2h0M554.9 113.4h0M549.7 112.7h0M520.9 113.2h0M552.8 111.8h0M528.9 111.1h0M547.2 107.6h0M528.8 112.7h0M526.1 108.3h0M551.2 107.7h0M558.2 114.0h0M552.5 109.2h0M560.3 107.6h0M513.8 109.0h0M521.3 111.2h0M516.9 108.7h0M544.5 109.8h0M515.8 112.6h0M519.8 112.8h0M548.6 108.4h0M532.0 109.1h0M525.7 110.7h0M525.2 112.5h0M558.6 112.9h0M515.3 110.5h0M515.2 112.4h0M537.2 110.3h0M548.7 107.5h0M546.2 111.9h0M542.1 109.5h0M526.2 110.9h0M569.0 113.1h0M567.1 112.6h0M568.5 109.0h0M540.2 107.6h0M538.9 107.9h0M553.0 111.6h0M532.6 109.9h0M536.0 108.2h0M524.4 108.7h0M542.3 112.0h0M524.6 109.8h0M524.5 111.8h0M544.8 108.6h0M567.7 117.9h0M566.4 118.1h0M553.8 119.1h0M517.1 118.0h0M514.3 115.3h0M553.8 118.8h0M528.3 117.5h0M522.7 116.1h0M568.8 117.5h0M516.1 115.8h0M605.6 108.7h0M592.9 109.6h0M641.1 108.4h0M610.0 113.5h0M634.9 112.3h0M636.0 113.3h0M597.6 110.5h0M609.2 112.7h0M612.2 111.2h0M645.5 110.5h0M621.3 108.0h0M621.7 111.3h0M614.4 113.7h0M630.1 113.5h0M596.7 113.9h0M607.7 108.3h0M592.5 113.4h0M631.6 108.6h0M601.6 114.1h0M630.0 109.8h0M633.3 111.7h0M605.6 112.2h0M593.3 108.6h0M603.4 111.7h0M645.4 108.6h0M624.6 111.3h0M625.0 111.4h0M608.7 111.7h0M595.5 107.5h0M611.9 107.4h0M598.0 107.9h0M645.7 110.2h0M607.0 111.6h0M601.6 112.3h0M608.6 107.7h0M630.1 109.6h0M632.3 109.8h0M643.6 107.7h0M638.1 109.1h0M637.9 107.4h0M639.3 108.4h0M629.1 112.6h0M592.3 108.7h0M642.1 108.2h0M628.4 108.0h0M628.5 110.9h0M599.7 108.1h0M646.4 107.7h0M628.0 109.4h0M604.2 110.7h0M592.6 107.6h0M599.0 113.0h0M612.0 113.9h0M599.4 111.9h0M605.8 112.4h0M620.9 109.3h0M605.6 107.8h0M607.6 112.5h0M634.3 109.4h0M602.5 108.4h0M613.1 108.4h0M627.4 109.3h0M640.1 110.0h0M628.7 107.5h0M604.8 112.8h0M616.1 107.4h0M617.3 107.8h0M597.0 111.8h0M618.4 107.8h0M604.6 108.1h0M598.3 109.8h0M611.8 107.6h0M643.9 110.0h0M595.7 110.6h0M633.2 108.4h0M640.2 110.7h0M639.5 113.9h0M644.3 107.8h0M605.1 110.4h0M639.9 108.1h0M596.4 108.3h0M643.2 108.6h0M632.4 109.9h0M617.0 107.6h0M603.2 109.0h0M611.9 111.4h0M646.5 107.8h0M601.8 110.1h0M628.1 107.3h0M593.1 110.3h0M633.0 110.0h0M604.8 110.5h0M625.4 110.2h0M599.8 111.4h0M644.4 112.6h0M639.5 112.1h0M642.0 109.3h0M604.4 108.1h0M641.9 110.9h0M603.8 107.6h0M616.2 107.4h0M602.4 107.9h0M624.2 112.1h0M614.1 113.7h0M592.5 111.6h0M604.7 113.8h0M620.2 110.1h0M619.1 113.8h0M626.3 114.1h0M638.2 108.3h0M647.4 108.3h0M604.3 109.9h0M609.7 113.9h0M610.8 109.6h0M593.0 111.5h0M600.8 109.3h0M591.8 112.8h0M606.1 111.0h0M623.0 109.9h0M599.4 111.8h0M598.5 108.5h0M600.1 113.9h0M620.8 107.9h0M641.1 110.8h0M604.8 107.5h0M624.3 108.1h0M614.5 109.9h0M628.6 113.3h0M645.0 113.0h0M644.2 108.7h0M594.6 109.6h0M597.5 113.5h0M607.9 107.4h0M645.6 108.8h0M615.1 113.1h0M639.0 110.4h0M628.1 112.6h0M598.2 110.3h0M628.4 108.5h0M636.3 110.9h0M645.3 113.4h0M596.0 108.2h0M623.5 113.3h0M630.3 108.1h0M604.9 108.6h0M620.9 109.3h0M595.8 111.6h0M626.5 112.1h0M629.2 110.0h0M592.3 112.5h0M629.5 110.0h0M627.8 111.8h0M645.1 108.1h0M604.7 112.4h0M645.1 109.7h0M614.5 108.3h0M641.8 113.9h0M632.7 108.4h0M628.7 109.2h0M598.8 112.3h0M603.7 108.4h0M593.7 108.6h0M614.4 107.9h0M596.1 109.7h0M644.2 110.8h0M611.5 120.3h0M616.1 121.6h0M618.6 116.1h0M629.4 114.4h0M612.3 115.9h0M634.4 124.3h0M627.5 123.0h0M631.0 120.9h0M602.7 124.4h0M608.5 122.3h0M637.5 116.9h0M639.0 120.5h0M624.5 123.4h0M592.6 116.3h0M632.1 119.8h0M595.6 117.1h0M601.4 114.3h0M592.0 121.5h0M606.5 116.6h0M646.7 121.7h0M598.1 114.4h0M645.7 124.1h0" stroke="#2384F2" stroke-width="2.15" stroke-linecap="round" fill="none"/>
<line x1="664.70" y1="74.70" x2="664.70" y2="31.00" stroke="#E38A1E" stroke-width="0.9"/>
<path d="M662.6 33.2L664.7 28.2L666.8 33.2Z" fill="#E38A1E"/>
<line x1="664.70" y1="111.30" x2="664.70" y2="148.00" stroke="#2F6FE0" stroke-width="0.9"/>
<path d="M662.6 146L664.7 150.6L666.8 146Z" fill="#2F6FE0"/>
<text x="58.60" y="13.80" font-size="5.65" text-anchor="middle" font-style="italic" fill="#E91AE0" stroke="#E91AE0">WLP1</text>
<circle cx="58.0" cy="15.8" r="1.2" fill="#E91AE0"/>
<text x="95.30" y="13.40" font-size="5.65" text-anchor="middle" font-style="italic" fill="#E91AE0" stroke="#E91AE0">CRMP1</text>
<circle cx="94.5" cy="15.5" r="1.7" fill="#E91AE0"/>
<text x="68.20" y="24.90" font-size="5.65" font-style="italic" fill="#E91AE0" stroke="#E91AE0">TRP1</text>
<circle cx="65.8" cy="22.9" r="1.5" fill="#E91AE0"/>
<text x="47.50" y="33.70" font-size="5.65" text-anchor="middle" font-style="italic" fill="#E91AE0" stroke="#E91AE0">HTO1</text>
<circle cx="48.7" cy="35.2" r="1.7" fill="#E91AE0"/>
<text x="84.40" y="34.00" font-size="5.65" text-anchor="middle" font-style="italic" fill="#E91AE0" stroke="#E91AE0">RRF2</text>
<circle cx="85.7" cy="35.2" r="0.8" fill="#E91AE0"/>
<text x="30.80" y="44.20" font-size="5.65" fill="#E91AE0" stroke="#E91AE0">RPC10</text>
<circle cx="49.3" cy="42.7" r="0.8" fill="#E91AE0"/>
<text x="71.20" y="45.10" font-size="5.65" font-style="italic" fill="#E91AE0" stroke="#E91AE0">SNRNP40</text>
<circle cx="69.0" cy="43.1" r="1.5" fill="#E91AE0"/>
<text x="44.30" y="130.00" font-size="5.65" text-anchor="middle" font-style="italic" fill="#E91AE0" stroke="#E91AE0">MSP1</text>
<circle cx="46.1" cy="135.1" r="2.1" fill="#E91AE0"/>
<line x1="50.00" y1="129.50" x2="46.30" y2="134.50" stroke="#E91AE0" stroke-width="0.65"/>
<text x="36.60" y="148.30" font-size="5.65" text-anchor="middle" font-style="italic" fill="#E91AE0" stroke="#E91AE0">ApiAP2</text>
<line x1="41.50" y1="143.50" x2="46.00" y2="135.50" stroke="#E91AE0" stroke-width="0.65"/>
<text x="64.70" y="142.20" font-size="5.65" text-anchor="middle" font-style="italic" fill="#E91AE0" stroke="#E91AE0">RH3</text>
<line x1="69.30" y1="138.60" x2="76.20" y2="134.00" stroke="#E91AE0" stroke-width="0.65"/>
<text x="72.10" y="148.00" font-size="5.65" text-anchor="middle" font-style="italic" fill="#E91AE0" stroke="#E91AE0">MAAP</text>
<circle cx="76.9" cy="133.2" r="2.0" fill="#E91AE0"/>
<line x1="76.60" y1="143.40" x2="76.90" y2="133.50" stroke="#E91AE0" stroke-width="0.65"/>
<text x="87.40" y="143.60" font-size="5.65" text-anchor="middle" font-style="italic" fill="#E91AE0" stroke="#E91AE0">PK2</text>
<circle cx="88.8" cy="133.7" r="2.3" fill="#E91AE0"/>
<line x1="88.00" y1="139.00" x2="88.80" y2="134.00" stroke="#E91AE0" stroke-width="0.65"/>
<text x="97.60" y="126.40" font-size="5.65" fill="#E91AE0" stroke="#E91AE0">MSA180</text>
<line x1="97.60" y1="125.80" x2="89.80" y2="132.80" stroke="#E91AE0" stroke-width="0.65"/>
<text x="104.10" y="133.00" font-size="5.65" font-style="italic" fill="#E91AE0" stroke="#E91AE0">RH5</text>
<circle cx="95.5" cy="132.3" r="1.8" fill="#E91AE0"/>
<line x1="103.80" y1="131.50" x2="96.30" y2="132.30" stroke="#E91AE0" stroke-width="0.65"/>
<text x="97.30" y="142.70" font-size="5.65" font-style="italic" fill="#E91AE0" stroke="#E91AE0">IMC1g</text>
<line x1="98.50" y1="138.00" x2="90.60" y2="134.60" stroke="#E91AE0" stroke-width="0.65"/>
<text x="128.00" y="66.20" font-size="5.65" text-anchor="middle" font-style="italic" fill="#8E1B1B" stroke="#8E1B1B">WLP1</text>
<circle cx="126.2" cy="68.2" r="1.1" fill="#8E1B1B"/>
<text x="168.90" y="63.90" font-size="5.65" text-anchor="middle" font-style="italic" fill="#8E1B1B" stroke="#8E1B1B">ATPk</text>
<circle cx="167.3" cy="64.7" r="1.0" fill="#8E1B1B"/>
<text x="137.40" y="72.50" font-size="6.3" fill="#8E1B1B" stroke="#8E1B1B">RNA-binding protein</text>
<text x="172.90" y="79.50" font-size="5.65" font-style="italic" fill="#8E1B1B" stroke="#8E1B1B">HDA2</text>
<circle cx="170.8" cy="75.2" r="2.0" fill="#8E1B1B"/>
<text x="120.60" y="142.60" font-size="5.65" fill="#8E1B1B" stroke="#8E1B1B">CDPK5</text>
<circle cx="130.8" cy="148.3" r="1.2" fill="#8E1B1B"/>
<line x1="130.80" y1="143.00" x2="130.80" y2="147.60" stroke="#8E1B1B" stroke-width="0.65"/>
<text x="154.20" y="144.90" font-size="5.65" font-style="italic" fill="#8E1B1B" stroke="#8E1B1B">MTRAP</text>
<circle cx="168.2" cy="146.4" r="1.4" fill="#8E1B1B"/>
<text x="178.30" y="149.10" font-size="5.65" font-style="italic" fill="#8E1B1B" stroke="#8E1B1B">RH4</text>
<circle cx="175.9" cy="146.9" r="1.0" fill="#8E1B1B"/>
<text x="143.20" y="152.00" font-size="5.65" font-style="italic" fill="#8E1B1B" stroke="#8E1B1B">ELC</text>
<circle cx="150.2" cy="153.0" r="1.2" fill="#8E1B1B"/>
<text x="116.80" y="155.50" font-size="5.65" font-style="italic" fill="#8E1B1B" stroke="#8E1B1B">PlC2</text>
<circle cx="128.0" cy="153.9" r="1.6" fill="#8E1B1B"/>
<text x="122.20" y="162.90" font-size="5.65" font-style="italic" fill="#8E1B1B" stroke="#8E1B1B">EBA140</text>
<circle cx="138.6" cy="156.3" r="1.6" fill="#8E1B1B"/>
<text x="148.40" y="162.50" font-size="5.65" font-style="italic" fill="#8E1B1B" stroke="#8E1B1B">IMC1g</text>
<circle cx="153.0" cy="155.8" r="1.0" fill="#8E1B1B"/>
<text x="204.00" y="61.40" font-size="6.3" fill="#111" stroke="#111">Amino acid transporter</text>
<circle cx="241.3" cy="64.8" r="1.8" fill="#111"/>
<text x="220.80" y="72.50" font-size="5.65" font-style="italic" fill="#111" stroke="#111">ApiAP2</text>
<circle cx="217.8" cy="69.8" r="1.6" fill="#111"/>
<text x="257.10" y="72.50" font-size="5.65" font-style="italic" fill="#111" stroke="#111">FIRA</text>
<circle cx="253.7" cy="69.8" r="1.5" fill="#111"/>
<text x="209.40" y="120.50" font-size="5.65" font-style="italic" fill="#111" stroke="#111">RPS15</text>
<circle cx="220.0" cy="115.0" r="0.7" fill="#111"/>
<text x="207.40" y="132.30" font-size="5.65" font-style="italic" fill="#111" stroke="#111">PfD80</text>
<circle cx="213.4" cy="124.9" r="0.7" fill="#111"/>
<text x="305.10" y="79.90" font-size="5.65" font-style="italic" fill="#EC1561" stroke="#EC1561">ALBA3</text>
<circle cx="323.2" cy="81.6" r="1.7" fill="#EC1561"/>
<text x="289.00" y="120.50" font-size="5.65" font-style="italic" fill="#EC1561" stroke="#EC1561">MIF</text>
<circle cx="293.4" cy="114.8" r="1.8" fill="#EC1561"/>
<text x="318.50" y="121.20" font-size="6.3" fill="#EC1561" stroke="#EC1561">S-antigen</text>
<circle cx="328.6" cy="115.8" r="1.8" fill="#EC1561"/>
<text x="343.40" y="63.10" font-size="6.3" fill="#111" stroke="#111">28S ribosomal RNA</text>
<text x="338.30" y="70.80" font-size="6.3" fill="#111" stroke="#111">18S ribosomal RNA</text>
<text x="400.50" y="70.80" font-size="5.65" font-style="italic" fill="#111" stroke="#111">LSD2</text>
<ellipse cx="394.2" cy="78.1" rx="3.0" ry="1.9" fill="#111"/>
<line x1="393.10" y1="67.50" x2="393.80" y2="76.00" stroke="#111" stroke-width="0.65"/>
<line x1="403.80" y1="71.50" x2="396.40" y2="77.20" stroke="#111" stroke-width="0.65"/>
<text x="395.40" y="127.30" font-size="5.65" font-style="italic" fill="#111" stroke="#111">PDCD2</text>
<circle cx="405.5" cy="115.8" r="1.5" fill="#111"/>
<line x1="408.20" y1="121.00" x2="405.80" y2="116.50" stroke="#111" stroke-width="0.65"/>
<text x="445.90" y="67.80" font-size="6.3" fill="#E8202A" stroke="#E8202A">Dynein heavy chain</text>
<circle cx="486.5" cy="70.4" r="1.5" fill="#E8202A"/>
<text x="455.60" y="81.30" font-size="6.3" fill="#E8202A" stroke="#E8202A">Non-coding RNA</text>
<circle cx="475.3" cy="76.6" r="1.7" fill="#E8202A"/>
<text x="447.90" y="120.00" font-size="5.65" font-style="italic" fill="#E8202A" stroke="#E8202A">RAMA</text>
<circle cx="467.6" cy="119.1" r="1.5" fill="#E8202A"/>
<text x="425.80" y="127.00" font-size="6.3" fill="#E8202A" stroke="#E8202A">Signal recognition particle RNA</text>
<text x="517.90" y="48.40" font-size="6.3" fill="#111" stroke="#111">Dynein heavy chain</text>
<circle cx="521.4" cy="51.5" r="1.6" fill="#111"/>
<text x="555.40" y="72.80" font-size="5.65" font-style="italic" fill="#111" stroke="#111">WLP1</text>
<circle cx="553.1" cy="71.6" r="1.6" fill="#111"/>
<text x="512.10" y="132.40" font-size="5.65" font-style="italic" fill="#111" stroke="#111">MAAP</text>
<circle cx="528.3" cy="121.9" r="1.8" fill="#111"/>
<line x1="521.40" y1="127.70" x2="527.50" y2="122.60" stroke="#111" stroke-width="0.65"/>
<text x="527.20" y="138.60" font-size="5.65" font-style="italic" fill="#111" stroke="#111">ARNP</text>
<line x1="535.30" y1="133.50" x2="529.50" y2="123.00" stroke="#111" stroke-width="0.65"/>
<text x="554.20" y="130.80" font-size="5.65" font-style="italic" fill="#111" stroke="#111">IMC1c</text>
<circle cx="546.9" cy="121.1" r="2.0" fill="#111"/>
<line x1="555.40" y1="126.90" x2="548.40" y2="121.90" stroke="#111" stroke-width="0.65"/>
<text x="546.90" y="138.60" font-size="5.65" font-style="italic" fill="#111" stroke="#111">IMC1g</text>
<line x1="552.70" y1="133.50" x2="547.70" y2="122.60" stroke="#111" stroke-width="0.65"/>
<text x="628.90" y="76.70" font-size="5.65" fill="#2A22D6" stroke="#2A22D6">Pfs16</text>
<circle cx="626.2" cy="75.4" r="1.5" fill="#2A22D6"/>
<text x="615.40" y="125.00" font-size="5.65" font-style="italic" fill="#2A22D6" stroke="#2A22D6">ACBP2</text>
<circle cx="625.0" cy="126.9" r="1.6" fill="#2A22D6"/>
<text x="601.00" y="129.70" font-size="5.65" font-style="italic" fill="#2A22D6" stroke="#2A22D6">MSP9</text>
<circle cx="598.7" cy="126.9" r="1.4" fill="#2A22D6"/>
<text x="581.70" y="136.60" font-size="5.65" fill="#2A22D6" stroke="#2A22D6">SERA5</text>
<circle cx="592.9" cy="130.4" r="1.7" fill="#2A22D6"/>
<text x="625.00" y="136.20" font-size="6.3" fill="#2A22D6" stroke="#2A22D6">S-antigen</text>
<circle cx="630.0" cy="130.4" r="1.5" fill="#2A22D6"/>
<text transform="translate(0.50 178.30) scale(1.16 1)" font-size="11.6" font-weight="bold" fill="#000" stroke="#000" style="stroke-width:.35px">b</text>
<rect x="49.60" y="182.00" width="94.90" height="48.70" fill="#fff" stroke="#777" stroke-width="0.7"/>
<rect x="69.40" y="186.90" width="74.94" height="9.00" fill="#F27517"/>
<text x="142.44" y="193.64" font-size="6.6" text-anchor="end" font-weight="bold" fill="#fff" stroke="#fff">1.98</text>
<rect x="69.40" y="197.70" width="32.27" height="9.10" fill="#F27517"/>
<text x="99.77" y="204.49" font-size="6.6" text-anchor="end" font-weight="bold" fill="#fff" stroke="#fff">0.86</text>
<rect x="69.40" y="208.00" width="28.46" height="9.00" fill="#F27517"/>
<text x="95.96" y="214.74" font-size="6.6" text-anchor="end" font-weight="bold" fill="#fff" stroke="#fff">0.76</text>
<rect x="69.40" y="218.30" width="22.74" height="9.50" fill="#F27517"/>
<text x="90.24" y="225.29" font-size="6.6" text-anchor="end" font-weight="bold" fill="#fff" stroke="#fff">0.61</text>
<line x1="68.90" y1="182.00" x2="68.90" y2="230.70" stroke="#333" stroke-width="0.6"/>
<line x1="49.85" y1="230.70" x2="49.85" y2="232.70" stroke="#444" stroke-width="0.5"/>
<text x="49.85" y="241.71" font-size="6.3" text-anchor="middle">−0.5</text>
<line x1="68.90" y1="230.70" x2="68.90" y2="232.70" stroke="#444" stroke-width="0.5"/>
<text x="68.90" y="241.71" font-size="6.3" text-anchor="middle">0</text>
<line x1="87.95" y1="230.70" x2="87.95" y2="232.70" stroke="#444" stroke-width="0.5"/>
<text x="87.95" y="241.71" font-size="6.3" text-anchor="middle">0.5</text>
<line x1="107.00" y1="230.70" x2="107.00" y2="232.70" stroke="#444" stroke-width="0.5"/>
<text x="107.00" y="241.71" font-size="6.3" text-anchor="middle">1</text>
<line x1="126.05" y1="230.70" x2="126.05" y2="232.70" stroke="#444" stroke-width="0.5"/>
<text x="126.05" y="241.71" font-size="6.3" text-anchor="middle">1.5</text>
<line x1="145.10" y1="230.70" x2="145.10" y2="232.70" stroke="#444" stroke-width="0.5"/>
<text x="145.10" y="241.71" font-size="6.3" text-anchor="middle">2</text>
<text x="97.00" y="179.30" font-size="7.5" text-anchor="middle">Post exposure to βOHB</text>
<text x="97.05" y="252.10" font-size="7.5" text-anchor="middle">log<tspan font-size="70%" dy="1.5">2</tspan><tspan dy="-1.5">(FC)</tspan></text>
<text x="6.10" y="210.60" font-size="7.4" text-anchor="middle" transform="rotate(-90.00 6.10 210.60)" dominant-baseline="central">Resistance to</text>
<text x="14.60" y="210.50" font-size="7.7" text-anchor="middle" transform="rotate(-90.00 14.60 210.50)" dominant-baseline="central">medicine</text>
<line x1="20.20" y1="191.40" x2="20.20" y2="228.40" stroke="#999" stroke-width="1.5"/>
<text x="35.00" y="207.00" font-size="5.9" text-anchor="middle" transform="rotate(-90.00 35.00 207.00)" dominant-baseline="central">WD RCP,</text>
<text x="42.90" y="207.00" font-size="6.5" text-anchor="middle" transform="rotate(-90.00 42.90 207.00)" dominant-baseline="central">putative</text>
<text transform="translate(0.50 264.50) scale(1.16 1)" font-size="11.6" font-weight="bold" fill="#000" stroke="#000" style="stroke-width:.35px">c</text>
<rect x="49.60" y="270.10" width="95.40" height="59.20" fill="#fff" stroke="#777" stroke-width="0.7"/>
<rect x="82.00" y="274.00" width="51.97" height="9.70" fill="#F27517"/>
<text x="133.17" y="281.09" font-size="6.6" text-anchor="end" font-weight="bold" fill="#fff" stroke="#fff">0.66</text>
<rect x="82.00" y="284.70" width="48.79" height="9.20" fill="#F27517"/>
<text x="129.99" y="291.54" font-size="6.6" text-anchor="end" font-weight="bold" fill="#fff" stroke="#fff">0.62</text>
<rect x="82.00" y="295.20" width="38.45" height="9.10" fill="#F27517"/>
<text x="119.66" y="301.99" font-size="6.6" text-anchor="end" font-weight="bold" fill="#fff" stroke="#fff">0.49</text>
<rect x="82.00" y="305.70" width="36.86" height="9.10" fill="#F27517"/>
<text x="118.06" y="312.49" font-size="6.6" text-anchor="end" font-weight="bold" fill="#fff" stroke="#fff">0.47</text>
<rect x="82.00" y="316.10" width="35.28" height="9.10" fill="#F27517"/>
<text x="116.48" y="322.89" font-size="6.6" text-anchor="end" font-weight="bold" fill="#fff" stroke="#fff">0.45</text>
<line x1="81.50" y1="270.10" x2="81.50" y2="329.30" stroke="#333" stroke-width="0.6"/>
<line x1="49.70" y1="329.30" x2="49.70" y2="331.30" stroke="#444" stroke-width="0.5"/>
<text x="49.70" y="339.20" font-size="6.3" text-anchor="middle">−0.4</text>
<line x1="65.60" y1="329.30" x2="65.60" y2="331.30" stroke="#444" stroke-width="0.5"/>
<text x="65.60" y="339.20" font-size="6.3" text-anchor="middle">−0.2</text>
<line x1="81.50" y1="329.30" x2="81.50" y2="331.30" stroke="#444" stroke-width="0.5"/>
<text x="81.50" y="339.20" font-size="6.3" text-anchor="middle">0</text>
<line x1="97.40" y1="329.30" x2="97.40" y2="331.30" stroke="#444" stroke-width="0.5"/>
<text x="97.40" y="339.20" font-size="6.3" text-anchor="middle">0.2</text>
<line x1="113.30" y1="329.30" x2="113.30" y2="331.30" stroke="#444" stroke-width="0.5"/>
<text x="113.30" y="339.20" font-size="6.3" text-anchor="middle">0.4</text>
<line x1="129.20" y1="329.30" x2="129.20" y2="331.30" stroke="#444" stroke-width="0.5"/>
<text x="129.20" y="339.20" font-size="6.3" text-anchor="middle">0.6</text>
<line x1="145.10" y1="329.30" x2="145.10" y2="331.30" stroke="#444" stroke-width="0.5"/>
<text x="145.10" y="339.20" font-size="6.3" text-anchor="middle">0.8</text>
<text x="97.80" y="264.80" font-size="7.5" text-anchor="middle">Post exposure to βOHB</text>
<text x="97.30" y="347.20" font-size="7.5" text-anchor="middle">log<tspan font-size="70%" dy="1.5">2</tspan><tspan dy="-1.5">(FC)</tspan></text>
<text x="46.70" y="280.30" font-size="5.6" text-anchor="end" style="stroke-width:.1px">YKT6.1</text>
<text x="46.70" y="291.70" font-size="5.6" text-anchor="end" style="stroke-width:.1px">SYN5</text>
<text x="46.70" y="299.80" font-size="5.6" text-anchor="end" style="stroke-width:.1px">FIKK4.2</text>
<text x="46.70" y="307.40" font-size="5.6" text-anchor="end" style="stroke-width:.1px">ETRAMP</text>
<text x="46.70" y="312.40" font-size="5.6" text-anchor="end" style="stroke-width:.1px">10.2</text>
<text x="46.70" y="321.20" font-size="5.6" text-anchor="end" style="stroke-width:.1px">SFT2,</text>
<text x="46.70" y="327.60" font-size="6.3" text-anchor="end" style="stroke-width:.1px">putative</text>
<text x="10.40" y="298.80" font-size="7.8" text-anchor="middle" transform="rotate(-90.00 10.40 298.80)" dominant-baseline="central">Protein trafficking</text>
<line x1="18.70" y1="276.00" x2="18.70" y2="321.20" stroke="#555" stroke-width="1.0"/>
<text transform="translate(0.50 364.00) scale(1.16 1)" font-size="11.6" font-weight="bold" fill="#000" stroke="#000" style="stroke-width:.35px">d</text>
<rect x="49.00" y="366.70" width="96.10" height="70.10" fill="#fff" stroke="#777" stroke-width="0.7"/>
<rect x="58.90" y="370.50" width="85.11" height="7.90" fill="#F27517"/>
<text x="142.11" y="376.69" font-size="6.6" text-anchor="end" font-weight="bold" fill="#fff" stroke="#fff">1.81</text>
<rect x="58.90" y="379.90" width="78.02" height="7.50" fill="#F27517"/>
<text x="135.02" y="385.89" font-size="6.6" text-anchor="end" font-weight="bold" fill="#fff" stroke="#fff">1.66</text>
<rect x="58.90" y="388.90" width="44.43" height="7.60" fill="#F27517"/>
<text x="101.43" y="394.94" font-size="6.6" text-anchor="end" font-weight="bold" fill="#fff" stroke="#fff">0.95</text>
<rect x="58.90" y="398.00" width="27.88" height="7.50" fill="#F27517"/>
<text x="84.88" y="403.99" font-size="6.6" text-anchor="end" font-weight="bold" fill="#fff" stroke="#fff">0.6</text>
<rect x="58.90" y="407.00" width="21.73" height="7.60" fill="#F27517"/>
<text x="78.73" y="413.04" font-size="6.6" text-anchor="end" font-weight="bold" fill="#fff" stroke="#fff">0.47</text>
<rect x="58.90" y="416.40" width="19.37" height="7.20" fill="#F27517"/>
<text x="76.37" y="422.24" font-size="6.6" text-anchor="end" font-weight="bold" fill="#fff" stroke="#fff">0.42</text>
<rect x="58.90" y="425.10" width="12.27" height="7.60" fill="#F27517"/>
<text x="69.27" y="431.14" font-size="6.6" text-anchor="end" font-weight="bold" fill="#fff" stroke="#fff">0.27</text>
<line x1="58.40" y1="366.70" x2="58.40" y2="436.80" stroke="#333" stroke-width="0.6"/>
<line x1="48.94" y1="436.80" x2="48.94" y2="438.80" stroke="#444" stroke-width="0.5"/>
<text x="48.94" y="445.86" font-size="5.3" text-anchor="middle">−0.2</text>
<line x1="58.40" y1="436.80" x2="58.40" y2="438.80" stroke="#444" stroke-width="0.5"/>
<text x="58.40" y="445.86" font-size="5.3" text-anchor="middle">0</text>
<line x1="67.86" y1="436.80" x2="67.86" y2="438.80" stroke="#444" stroke-width="0.5"/>
<text x="67.86" y="445.86" font-size="5.3" text-anchor="middle">0.2</text>
<line x1="77.32" y1="436.80" x2="77.32" y2="438.80" stroke="#444" stroke-width="0.5"/>
<text x="77.32" y="445.86" font-size="5.3" text-anchor="middle">0.4</text>
<line x1="86.78" y1="436.80" x2="86.78" y2="438.80" stroke="#444" stroke-width="0.5"/>
<text x="86.78" y="445.86" font-size="5.3" text-anchor="middle">0.6</text>
<line x1="96.24" y1="436.80" x2="96.24" y2="438.80" stroke="#444" stroke-width="0.5"/>
<text x="96.24" y="445.86" font-size="5.3" text-anchor="middle">0.8</text>
<line x1="105.70" y1="436.80" x2="105.70" y2="438.80" stroke="#444" stroke-width="0.5"/>
<text x="105.70" y="445.86" font-size="5.3" text-anchor="middle">1</text>
<line x1="115.16" y1="436.80" x2="115.16" y2="438.80" stroke="#444" stroke-width="0.5"/>
<text x="115.16" y="445.86" font-size="5.3" text-anchor="middle">1.2</text>
<line x1="124.62" y1="436.80" x2="124.62" y2="438.80" stroke="#444" stroke-width="0.5"/>
<text x="124.62" y="445.86" font-size="5.3" text-anchor="middle">1.4</text>
<line x1="134.08" y1="436.80" x2="134.08" y2="438.80" stroke="#444" stroke-width="0.5"/>
<text x="134.08" y="445.86" font-size="5.3" text-anchor="middle">1.6</text>
<line x1="143.54" y1="436.80" x2="143.54" y2="438.80" stroke="#444" stroke-width="0.5"/>
<text x="143.54" y="445.86" font-size="5.3" text-anchor="middle">1.8</text>
<text x="97.00" y="362.00" font-size="7.5" text-anchor="middle">Post exposure to βOHB</text>
<text x="97.05" y="455.80" font-size="7.5" text-anchor="middle">log<tspan font-size="70%" dy="1.5">2</tspan><tspan dy="-1.5">(FC)</tspan></text>
<text x="45.30" y="376.45" font-size="5.6" text-anchor="end" style="stroke-width:.1px">CRMP1</text>
<text x="45.30" y="385.65" font-size="5.6" text-anchor="end" style="stroke-width:.1px">TRP1</text>
<text x="45.30" y="394.70" font-size="5.6" text-anchor="end" style="stroke-width:.1px">SPECT1</text>
<text x="45.30" y="403.75" font-size="5.6" text-anchor="end" style="stroke-width:.1px">FLP</text>
<text x="45.30" y="412.80" font-size="5.6" text-anchor="end" style="stroke-width:.1px">CCp4</text>
<text x="45.30" y="422.00" font-size="5.6" text-anchor="end" style="stroke-width:.1px">NEK2</text>
<text x="45.30" y="430.90" font-size="5.6" text-anchor="end" style="stroke-width:.1px">LSA1</text>
<text x="5.90" y="403.80" font-size="7.5" text-anchor="middle" transform="rotate(-90.00 5.90 403.80)" dominant-baseline="central">Liver and sexual</text>
<text x="15.20" y="403.20" font-size="7.5" text-anchor="middle" transform="rotate(-90.00 15.20 403.20)" dominant-baseline="central">stages</text>
<line x1="19.90" y1="377.50" x2="19.90" y2="425.30" stroke="#888" stroke-width="1.1"/>
<text transform="translate(159.50 178.30) scale(1.16 1)" font-size="11.6" font-weight="bold" fill="#000" stroke="#000" style="stroke-width:.35px">e</text>
<rect x="197.60" y="191.90" width="129.60" height="69.50" fill="#fff" stroke="#777" stroke-width="0.7"/>
<rect x="230.90" y="197.10" width="74.15" height="10.50" fill="#F27517"/>
<text x="301.05" y="205.07" font-size="8.0" text-anchor="end" font-weight="bold" fill="#fff" stroke="#fff">0.92</text>
<rect x="230.90" y="209.40" width="67.70" height="10.20" fill="#F27517"/>
<text x="294.60" y="217.22" font-size="8.0" text-anchor="end" font-weight="bold" fill="#fff" stroke="#fff">0.84</text>
<rect x="230.90" y="221.40" width="49.97" height="10.50" fill="#F27517"/>
<text x="276.87" y="229.37" font-size="8.0" text-anchor="end" font-weight="bold" fill="#fff" stroke="#fff">0.62</text>
<rect x="230.90" y="233.60" width="49.97" height="10.20" fill="#F27517"/>
<text x="276.87" y="241.42" font-size="8.0" text-anchor="end" font-weight="bold" fill="#fff" stroke="#fff">0.62</text>
<rect x="230.90" y="245.90" width="37.88" height="10.20" fill="#F27517"/>
<text x="264.78" y="253.72" font-size="8.0" text-anchor="end" font-weight="bold" fill="#fff" stroke="#fff">0.47</text>
<line x1="229.30" y1="191.90" x2="229.30" y2="261.40" stroke="#888" stroke-width="0.8"/>
<line x1="198.66" y1="261.40" x2="198.66" y2="263.40" stroke="#444" stroke-width="0.5"/>
<text x="198.66" y="271.70" font-size="6.3" text-anchor="middle">−0.4</text>
<line x1="214.78" y1="261.40" x2="214.78" y2="263.40" stroke="#444" stroke-width="0.5"/>
<text x="214.78" y="271.70" font-size="6.3" text-anchor="middle">−0.2</text>
<line x1="230.90" y1="261.40" x2="230.90" y2="263.40" stroke="#444" stroke-width="0.5"/>
<text x="230.90" y="271.70" font-size="6.3" text-anchor="middle">0</text>
<line x1="247.02" y1="261.40" x2="247.02" y2="263.40" stroke="#444" stroke-width="0.5"/>
<text x="247.02" y="271.70" font-size="6.3" text-anchor="middle">0.2</text>
<line x1="263.14" y1="261.40" x2="263.14" y2="263.40" stroke="#444" stroke-width="0.5"/>
<text x="263.14" y="271.70" font-size="6.3" text-anchor="middle">0.4</text>
<line x1="279.26" y1="261.40" x2="279.26" y2="263.40" stroke="#444" stroke-width="0.5"/>
<text x="279.26" y="271.70" font-size="6.3" text-anchor="middle">0.6</text>
<line x1="295.38" y1="261.40" x2="295.38" y2="263.40" stroke="#444" stroke-width="0.5"/>
<text x="295.38" y="271.70" font-size="6.3" text-anchor="middle">0.8</text>
<line x1="311.50" y1="261.40" x2="311.50" y2="263.40" stroke="#444" stroke-width="0.5"/>
<text x="311.50" y="271.70" font-size="6.3" text-anchor="middle">1</text>
<line x1="327.62" y1="261.40" x2="327.62" y2="263.40" stroke="#444" stroke-width="0.5"/>
<text x="327.62" y="271.70" font-size="6.3" text-anchor="middle">1.2</text>
<text x="259.50" y="187.50" font-size="7.5" text-anchor="middle">Post exposure to βOHB</text>
<text x="264.00" y="280.70" font-size="7.5" text-anchor="middle">log<tspan font-size="70%" dy="1.5">2</tspan><tspan dy="-1.5">(FC)</tspan></text>
<text x="194.40" y="204.35" font-size="5.6" text-anchor="end" style="stroke-width:.1px">PRP22</text>
<text x="194.40" y="216.50" font-size="5.6" text-anchor="end" style="stroke-width:.1px">PRP40</text>
<text x="194.40" y="228.65" font-size="5.6" text-anchor="end" style="stroke-width:.1px">CLF1</text>
<text x="194.40" y="240.70" font-size="5.6" text-anchor="end" style="stroke-width:.1px">PRP24</text>
<text x="194.40" y="253.00" font-size="5.6" text-anchor="end" style="stroke-width:.1px">BUD13</text>
<text x="165.00" y="225.00" font-size="7.5" text-anchor="middle" transform="rotate(-90.00 165.00 225.00)" dominant-baseline="central">Pre-mRNA splicing</text>
<line x1="172.20" y1="199.20" x2="172.20" y2="250.60" stroke="#777" stroke-width="1.2"/>
<text transform="translate(160.00 307.60) scale(1.16 1)" font-size="11.6" font-weight="bold" fill="#000" stroke="#000" style="stroke-width:.35px">f</text>
<rect x="199.50" y="308.70" width="127.60" height="117.70" fill="#fff" stroke="#777" stroke-width="0.7"/>
<rect x="251.10" y="314.00" width="65.79" height="10.80" fill="#F27517"/>
<text x="314.99" y="321.64" font-size="6.6" text-anchor="end" font-weight="bold" fill="#fff" stroke="#fff">1.31</text>
<rect x="251.10" y="328.30" width="28.34" height="10.50" fill="#F27517"/>
<text x="277.54" y="335.79" font-size="6.6" text-anchor="end" font-weight="bold" fill="#fff" stroke="#fff">0.57</text>
<rect x="226.82" y="343.80" width="23.28" height="10.50" fill="#3F8884"/>
<text x="229.02" y="351.29" font-size="6.6" font-weight="bold" fill="#fff" stroke="#fff">−0.47</text>
<rect x="226.82" y="357.80" width="23.28" height="10.20" fill="#3F8884"/>
<text x="229.02" y="365.14" font-size="6.6" font-weight="bold" fill="#fff" stroke="#fff">−0.47</text>
<rect x="223.28" y="370.30" width="26.82" height="10.50" fill="#3F8884"/>
<text x="225.48" y="377.79" font-size="6.6" font-weight="bold" fill="#fff" stroke="#fff">−0.54</text>
<rect x="212.14" y="384.00" width="37.96" height="10.60" fill="#3F8884"/>
<text x="214.34" y="391.54" font-size="6.6" font-weight="bold" fill="#fff" stroke="#fff">−0.76</text>
<rect x="208.60" y="397.20" width="41.50" height="10.80" fill="#3F8884"/>
<text x="210.80" y="404.84" font-size="6.6" font-weight="bold" fill="#fff" stroke="#fff">−0.83</text>
<rect x="203.54" y="410.90" width="46.56" height="10.80" fill="#3F8884"/>
<text x="205.74" y="418.54" font-size="6.6" font-weight="bold" fill="#fff" stroke="#fff">−0.93</text>
<line x1="250.60" y1="308.70" x2="250.60" y2="426.40" stroke="#333" stroke-width="0.6"/>
<line x1="200.00" y1="426.40" x2="200.00" y2="428.40" stroke="#444" stroke-width="0.5"/>
<text x="200.00" y="437.31" font-size="6.3" text-anchor="middle">−1</text>
<line x1="225.30" y1="426.40" x2="225.30" y2="428.40" stroke="#444" stroke-width="0.5"/>
<text x="225.30" y="437.31" font-size="6.3" text-anchor="middle">−0.5</text>
<line x1="250.60" y1="426.40" x2="250.60" y2="428.40" stroke="#444" stroke-width="0.5"/>
<text x="250.60" y="437.31" font-size="6.3" text-anchor="middle">0</text>
<line x1="275.90" y1="426.40" x2="275.90" y2="428.40" stroke="#444" stroke-width="0.5"/>
<text x="275.90" y="437.31" font-size="6.3" text-anchor="middle">0.5</text>
<line x1="301.20" y1="426.40" x2="301.20" y2="428.40" stroke="#444" stroke-width="0.5"/>
<text x="301.20" y="437.31" font-size="6.3" text-anchor="middle">1</text>
<line x1="326.50" y1="426.40" x2="326.50" y2="428.40" stroke="#444" stroke-width="0.5"/>
<text x="326.50" y="437.31" font-size="6.3" text-anchor="middle">1.5</text>
<text x="263.90" y="305.80" font-size="7.5" text-anchor="middle">Post exposure to βOHB</text>
<text x="262.00" y="447.80" font-size="7.5" text-anchor="middle">log<tspan font-size="70%" dy="1.5">2</tspan><tspan dy="-1.5">(FC)</tspan></text>
<text x="195.80" y="321.40" font-size="5.6" text-anchor="end" font-style="italic" style="stroke-width:.1px">H101</text>
<text x="195.80" y="335.55" font-size="5.6" text-anchor="end" font-style="italic" style="stroke-width:.1px">MSRP1</text>
<text x="195.80" y="351.05" font-size="5.6" text-anchor="end" font-style="italic" style="stroke-width:.1px">MSP11</text>
<text x="195.80" y="364.90" font-size="5.6" text-anchor="end" font-style="italic" style="stroke-width:.1px">MSP5</text>
<text x="195.80" y="377.55" font-size="5.6" text-anchor="end" font-style="italic" style="stroke-width:.1px">DBLMSP</text>
<text x="195.80" y="391.30" font-size="5.6" text-anchor="end" font-style="italic" style="stroke-width:.1px">MSA180</text>
<text x="195.80" y="404.60" font-size="5.6" text-anchor="end" font-style="italic" style="stroke-width:.1px">MAAP</text>
<text x="195.80" y="418.30" font-size="5.6" text-anchor="end" font-style="italic" style="stroke-width:.1px">MSP1</text>
<text x="163.30" y="364.20" font-size="7.4" text-anchor="middle" transform="rotate(-90.00 163.30 364.20)" dominant-baseline="central">MSP related</text>
<line x1="169.60" y1="315.60" x2="169.60" y2="416.80" stroke="#333" stroke-width="0.8"/>
<text x="202.60" y="316.50" font-size="6.3">Down-regulated</text>
<text x="287.20" y="421.30" font-size="6.3">Upregulated</text>
<text transform="translate(338.80 176.80) scale(1.16 1)" font-size="11.6" font-weight="bold" fill="#000" stroke="#000" style="stroke-width:.35px">g</text>
<rect x="377.30" y="182.50" width="112.70" height="113.90" fill="#fff" stroke="#777" stroke-width="0.7"/>
<rect x="435.30" y="186.90" width="22.40" height="9.20" fill="#3F8884"/>
<text x="437.50" y="193.74" font-size="6.6" font-weight="bold" fill="#fff" stroke="#fff">−0.28</text>
<rect x="418.12" y="197.62" width="39.58" height="9.20" fill="#3F8884"/>
<text x="420.32" y="204.46" font-size="6.6" font-weight="bold" fill="#fff" stroke="#fff">−0.49</text>
<rect x="417.30" y="208.34" width="40.40" height="9.20" fill="#3F8884"/>
<text x="419.50" y="215.18" font-size="6.6" font-weight="bold" fill="#fff" stroke="#fff">−0.5</text>
<rect x="406.67" y="219.06" width="51.03" height="9.20" fill="#3F8884"/>
<text x="408.87" y="225.90" font-size="6.6" font-weight="bold" fill="#fff" stroke="#fff">−0.63</text>
<rect x="405.85" y="229.78" width="51.85" height="9.20" fill="#3F8884"/>
<text x="408.05" y="236.62" font-size="6.6" font-weight="bold" fill="#fff" stroke="#fff">−0.64</text>
<rect x="403.39" y="240.50" width="54.31" height="9.20" fill="#3F8884"/>
<text x="405.59" y="247.34" font-size="6.6" font-weight="bold" fill="#fff" stroke="#fff">−0.67</text>
<rect x="402.58" y="251.22" width="55.12" height="9.20" fill="#3F8884"/>
<text x="404.78" y="258.06" font-size="6.6" font-weight="bold" fill="#fff" stroke="#fff">−0.68</text>
<rect x="396.85" y="261.94" width="60.85" height="9.20" fill="#3F8884"/>
<text x="399.05" y="268.78" font-size="6.6" font-weight="bold" fill="#fff" stroke="#fff">−0.75</text>
<rect x="396.03" y="272.66" width="61.67" height="9.20" fill="#3F8884"/>
<text x="398.23" y="279.50" font-size="6.6" font-weight="bold" fill="#fff" stroke="#fff">−0.76</text>
<rect x="391.12" y="283.38" width="66.58" height="9.20" fill="#3F8884"/>
<text x="393.32" y="290.22" font-size="6.6" font-weight="bold" fill="#fff" stroke="#fff">−0.82</text>
<line x1="458.20" y1="182.50" x2="458.20" y2="296.40" stroke="#333" stroke-width="0.6"/>
<line x1="377.70" y1="296.40" x2="377.70" y2="298.40" stroke="#444" stroke-width="0.5"/>
<text x="377.70" y="307.31" font-size="6.3" text-anchor="middle">−1</text>
<line x1="393.80" y1="296.40" x2="393.80" y2="298.40" stroke="#444" stroke-width="0.5"/>
<text x="393.80" y="307.31" font-size="6.3" text-anchor="middle">−0.8</text>
<line x1="409.90" y1="296.40" x2="409.90" y2="298.40" stroke="#444" stroke-width="0.5"/>
<text x="409.90" y="307.31" font-size="6.3" text-anchor="middle">−0.6</text>
<line x1="426.00" y1="296.40" x2="426.00" y2="298.40" stroke="#444" stroke-width="0.5"/>
<text x="426.00" y="307.31" font-size="6.3" text-anchor="middle">−0.4</text>
<line x1="442.10" y1="296.40" x2="442.10" y2="298.40" stroke="#444" stroke-width="0.5"/>
<text x="442.10" y="307.31" font-size="6.3" text-anchor="middle">−0.2</text>
<line x1="458.20" y1="296.40" x2="458.20" y2="298.40" stroke="#444" stroke-width="0.5"/>
<text x="458.20" y="307.31" font-size="6.3" text-anchor="middle">0</text>
<line x1="474.30" y1="296.40" x2="474.30" y2="298.40" stroke="#444" stroke-width="0.5"/>
<text x="474.30" y="307.31" font-size="6.3" text-anchor="middle">0.2</text>
<line x1="490.40" y1="296.40" x2="490.40" y2="298.40" stroke="#444" stroke-width="0.5"/>
<text x="490.40" y="307.31" font-size="6.3" text-anchor="middle">0.4</text>
<text x="435.70" y="179.30" font-size="7.5" text-anchor="middle">Post exposure to βOHB</text>
<text x="436.00" y="316.30" font-size="7.5" text-anchor="middle">log<tspan font-size="70%" dy="1.5">2</tspan><tspan dy="-1.5">(FC)</tspan></text>
<text x="373.80" y="193.50" font-size="5.6" text-anchor="end" font-style="italic" style="stroke-width:.1px">RH2b</text>
<text x="373.80" y="204.22" font-size="5.6" text-anchor="end" font-style="italic" style="stroke-width:.1px">RH2a</text>
<text x="373.80" y="214.94" font-size="5.6" text-anchor="end" font-style="italic" style="stroke-width:.1px">EBA140</text>
<text x="373.80" y="225.66" font-size="5.6" text-anchor="end" font-style="italic" style="stroke-width:.1px">RH1</text>
<text x="373.80" y="236.38" font-size="5.6" text-anchor="end" font-style="italic" style="stroke-width:.1px">RIPR</text>
<text x="373.80" y="247.10" font-size="5.6" text-anchor="end" font-style="italic" style="stroke-width:.1px">TRAMP</text>
<text x="373.80" y="257.82" font-size="5.6" text-anchor="end" font-style="italic" style="stroke-width:.1px">MTRAP</text>
<text x="373.80" y="268.54" font-size="5.6" text-anchor="end" font-style="italic" style="stroke-width:.1px">RH4</text>
<text x="373.80" y="279.26" font-size="5.6" text-anchor="end" font-style="italic" style="stroke-width:.1px">RH5</text>
<text x="373.80" y="289.98" font-size="5.6" text-anchor="end" font-style="italic" style="stroke-width:.1px">PK2</text>
<text x="343.50" y="239.50" font-size="7.4" text-anchor="middle" transform="rotate(-90.00 343.50 239.50)" dominant-baseline="central">Adhesion</text>
<line x1="349.60" y1="189.80" x2="349.60" y2="287.60" stroke="#444" stroke-width="0.9"/>
<text transform="translate(339.50 329.80) scale(1.16 1)" font-size="11.6" font-weight="bold" fill="#000" stroke="#000" style="stroke-width:.35px">i</text>
<rect x="382.00" y="333.70" width="101.90" height="92.90" fill="#fff" stroke="#777" stroke-width="0.7"/>
<rect x="415.55" y="336.90" width="6.75" height="9.10" fill="#3F8884"/>
<text x="414.35" y="343.60" font-size="6.3" text-anchor="end" font-weight="bold" fill="#111" stroke="#111">−0.18</text>
<rect x="408.69" y="348.60" width="13.61" height="9.20" fill="#3F8884"/>
<text x="407.50" y="355.35" font-size="6.3" text-anchor="end" font-weight="bold" fill="#111" stroke="#111">−0.35</text>
<rect x="408.29" y="360.40" width="14.01" height="9.30" fill="#3F8884"/>
<text x="407.09" y="367.20" font-size="6.3" text-anchor="end" font-weight="bold" fill="#111" stroke="#111">−0.36</text>
<rect x="405.47" y="373.70" width="16.83" height="9.20" fill="#3F8884"/>
<text x="406.27" y="380.44" font-size="6.3" font-weight="bold" fill="#fff" stroke="#fff">−0.43</text>
<rect x="404.26" y="386.30" width="18.04" height="9.50" fill="#3F8884"/>
<text x="405.56" y="393.19" font-size="6.3" font-weight="bold" fill="#fff" stroke="#fff">−0.46</text>
<rect x="401.44" y="400.00" width="20.86" height="9.40" fill="#3F8884"/>
<text x="403.34" y="406.84" font-size="6.3" font-weight="bold" fill="#fff" stroke="#fff">−0.53</text>
<rect x="384.51" y="412.60" width="37.79" height="9.20" fill="#3F8884"/>
<text x="386.51" y="419.34" font-size="6.3" font-weight="bold" fill="#fff" stroke="#fff">−0.95</text>
<line x1="422.80" y1="333.70" x2="422.80" y2="426.60" stroke="#333" stroke-width="0.6"/>
<line x1="382.50" y1="426.60" x2="382.50" y2="428.60" stroke="#444" stroke-width="0.5"/>
<text x="382.50" y="436.90" font-size="6.3" text-anchor="middle">−1</text>
<line x1="402.65" y1="426.60" x2="402.65" y2="428.60" stroke="#444" stroke-width="0.5"/>
<text x="402.65" y="436.90" font-size="6.3" text-anchor="middle">−0.5</text>
<line x1="422.80" y1="426.60" x2="422.80" y2="428.60" stroke="#444" stroke-width="0.5"/>
<text x="422.80" y="436.90" font-size="6.3" text-anchor="middle">0</text>
<line x1="442.95" y1="426.60" x2="442.95" y2="428.60" stroke="#444" stroke-width="0.5"/>
<text x="442.95" y="436.90" font-size="6.3" text-anchor="middle">0.5</text>
<line x1="463.10" y1="426.60" x2="463.10" y2="428.60" stroke="#444" stroke-width="0.5"/>
<text x="463.10" y="436.90" font-size="6.3" text-anchor="middle">1</text>
<line x1="483.25" y1="426.60" x2="483.25" y2="428.60" stroke="#444" stroke-width="0.5"/>
<text x="483.25" y="436.90" font-size="6.3" text-anchor="middle">1.5</text>
<text x="429.30" y="330.80" font-size="7.5" text-anchor="middle">Post exposure to βOHB</text>
<text x="434.50" y="446.50" font-size="7.5" text-anchor="middle">log<tspan font-size="70%" dy="1.5">2</tspan><tspan dy="-1.5">(FC)</tspan></text>
<text x="378.20" y="343.45" font-size="5.6" text-anchor="end" font-style="italic" style="stroke-width:.1px">MYST</text>
<text x="378.20" y="355.20" font-size="5.6" text-anchor="end" font-style="italic" style="stroke-width:.1px">AP2Tel</text>
<text x="378.20" y="367.05" font-size="5.6" text-anchor="end" font-style="italic" style="stroke-width:.1px">CDPK6</text>
<text x="378.20" y="380.30" font-size="5.6" text-anchor="end" font-style="italic" style="stroke-width:.1px">ApiAP2</text>
<text x="378.20" y="393.05" font-size="5.6" text-anchor="end" font-style="italic" style="stroke-width:.1px">AP2-O</text>
<text x="378.20" y="406.70" font-size="5.6" text-anchor="end" font-style="italic" style="stroke-width:.1px">PAT</text>
<text x="378.20" y="419.20" font-size="5.6" text-anchor="end" font-style="italic" style="stroke-width:.1px">ApiAP2</text>
<text x="346.30" y="376.90" font-size="7.6" text-anchor="middle" transform="rotate(-90.00 346.30 376.90)" dominant-baseline="central">Development</text>
<line x1="353.90" y1="339.90" x2="353.90" y2="419.90" stroke="#999" stroke-width="1.5"/>
<text transform="translate(500.50 178.30) scale(1.16 1)" font-size="11.6" font-weight="bold" fill="#000" stroke="#000" style="stroke-width:.35px">h</text>
<rect x="544.00" y="193.30" width="119.70" height="101.00" fill="#fff" stroke="#777" stroke-width="0.7"/>
<rect x="610.54" y="198.60" width="18.46" height="11.50" fill="#3F8884"/>
<text x="612.74" y="206.59" font-size="6.6" font-weight="bold" fill="#fff" stroke="#fff">−0.22</text>
<rect x="610.54" y="211.78" width="18.46" height="11.50" fill="#3F8884"/>
<text x="612.74" y="219.77" font-size="6.6" font-weight="bold" fill="#fff" stroke="#fff">−0.22</text>
<rect x="588.12" y="224.96" width="40.88" height="11.50" fill="#3F8884"/>
<text x="590.32" y="232.95" font-size="6.6" font-weight="bold" fill="#fff" stroke="#fff">−0.48</text>
<rect x="582.95" y="238.14" width="46.05" height="11.50" fill="#3F8884"/>
<text x="585.15" y="246.13" font-size="6.6" font-weight="bold" fill="#fff" stroke="#fff">−0.54</text>
<rect x="579.50" y="251.32" width="49.50" height="11.50" fill="#3F8884"/>
<text x="581.70" y="259.31" font-size="6.6" font-weight="bold" fill="#fff" stroke="#fff">−0.58</text>
<rect x="571.75" y="264.50" width="57.25" height="11.50" fill="#3F8884"/>
<text x="573.95" y="272.49" font-size="6.6" font-weight="bold" fill="#fff" stroke="#fff">−0.67</text>
<rect x="561.40" y="277.68" width="67.60" height="11.50" fill="#3F8884"/>
<text x="563.60" y="285.67" font-size="6.6" font-weight="bold" fill="#fff" stroke="#fff">−0.79</text>
<line x1="629.50" y1="193.30" x2="629.50" y2="294.30" stroke="#333" stroke-width="0.6"/>
<line x1="544.00" y1="294.30" x2="544.00" y2="296.30" stroke="#444" stroke-width="0.5"/>
<text x="544.00" y="305.31" font-size="6.3" text-anchor="middle">−1</text>
<line x1="561.10" y1="294.30" x2="561.10" y2="296.30" stroke="#444" stroke-width="0.5"/>
<text x="561.10" y="305.31" font-size="6.3" text-anchor="middle">−0.8</text>
<line x1="578.20" y1="294.30" x2="578.20" y2="296.30" stroke="#444" stroke-width="0.5"/>
<text x="578.20" y="305.31" font-size="6.3" text-anchor="middle">−0.6</text>
<line x1="595.30" y1="294.30" x2="595.30" y2="296.30" stroke="#444" stroke-width="0.5"/>
<text x="595.30" y="305.31" font-size="6.3" text-anchor="middle">−0.4</text>
<line x1="612.40" y1="294.30" x2="612.40" y2="296.30" stroke="#444" stroke-width="0.5"/>
<text x="612.40" y="305.31" font-size="6.3" text-anchor="middle">−0.2</text>
<line x1="629.50" y1="294.30" x2="629.50" y2="296.30" stroke="#444" stroke-width="0.5"/>
<text x="629.50" y="305.31" font-size="6.3" text-anchor="middle">0</text>
<line x1="646.60" y1="294.30" x2="646.60" y2="296.30" stroke="#444" stroke-width="0.5"/>
<text x="646.60" y="305.31" font-size="6.3" text-anchor="middle">0.2</text>
<line x1="663.70" y1="294.30" x2="663.70" y2="296.30" stroke="#444" stroke-width="0.5"/>
<text x="663.70" y="305.31" font-size="6.3" text-anchor="middle">0.4</text>
<text x="605.60" y="186.80" font-size="7.5" text-anchor="middle">Post exposure to βOHB</text>
<text x="610.50" y="316.30" font-size="7.5" text-anchor="middle">log<tspan font-size="70%" dy="1.5">2</tspan><tspan dy="-1.5">(FC)</tspan></text>
<text x="540.50" y="206.35" font-size="5.6" text-anchor="end" font-style="italic" style="stroke-width:.1px">PlC3</text>
<text x="540.50" y="219.53" font-size="5.6" text-anchor="end" font-style="italic" style="stroke-width:.1px">PlC4</text>
<text x="540.50" y="232.71" font-size="5.6" text-anchor="end" font-style="italic" style="stroke-width:.1px">IMC1f</text>
<text x="540.50" y="245.89" font-size="5.6" text-anchor="end" font-style="italic" style="stroke-width:.1px">ISP3</text>
<text x="540.50" y="259.07" font-size="5.6" text-anchor="end" font-style="italic" style="stroke-width:.1px">IMC1c</text>
<text x="540.50" y="272.25" font-size="5.6" text-anchor="end" font-style="italic" style="stroke-width:.1px">PHIL1</text>
<text x="540.50" y="285.43" font-size="5.6" text-anchor="end" font-style="italic" style="stroke-width:.1px">IMC1g</text>
<rect x="546.30" y="347.10" width="118.80" height="75.30" fill="#fff" stroke="#777" stroke-width="0.7"/>
<rect x="607.04" y="352.90" width="22.86" height="11.60" fill="#3F8884"/>
<text x="609.25" y="360.94" font-size="6.6" font-weight="bold" fill="#fff" stroke="#fff">−0.27</text>
<rect x="600.12" y="366.05" width="29.77" height="11.60" fill="#3F8884"/>
<text x="602.33" y="374.09" font-size="6.6" font-weight="bold" fill="#fff" stroke="#fff">−0.35</text>
<rect x="594.07" y="379.20" width="35.83" height="11.60" fill="#3F8884"/>
<text x="596.27" y="387.24" font-size="6.6" font-weight="bold" fill="#fff" stroke="#fff">−0.42</text>
<rect x="582.82" y="392.35" width="47.08" height="11.60" fill="#3F8884"/>
<text x="585.02" y="400.39" font-size="6.6" font-weight="bold" fill="#fff" stroke="#fff">−0.55</text>
<rect x="578.50" y="405.50" width="51.40" height="11.60" fill="#3F8884"/>
<text x="580.70" y="413.54" font-size="6.6" font-weight="bold" fill="#fff" stroke="#fff">−0.6</text>
<line x1="630.40" y1="347.10" x2="630.40" y2="422.40" stroke="#333" stroke-width="0.6"/>
<line x1="561.20" y1="422.40" x2="561.20" y2="424.40" stroke="#444" stroke-width="0.5"/>
<text x="561.20" y="432.81" font-size="6.3" text-anchor="middle">−0.8</text>
<line x1="578.50" y1="422.40" x2="578.50" y2="424.40" stroke="#444" stroke-width="0.5"/>
<text x="578.50" y="432.81" font-size="6.3" text-anchor="middle">−0.6</text>
<line x1="595.80" y1="422.40" x2="595.80" y2="424.40" stroke="#444" stroke-width="0.5"/>
<text x="595.80" y="432.81" font-size="6.3" text-anchor="middle">−0.4</text>
<line x1="613.10" y1="422.40" x2="613.10" y2="424.40" stroke="#444" stroke-width="0.5"/>
<text x="613.10" y="432.81" font-size="6.3" text-anchor="middle">−0.2</text>
<line x1="630.40" y1="422.40" x2="630.40" y2="424.40" stroke="#444" stroke-width="0.5"/>
<text x="630.40" y="432.81" font-size="6.3" text-anchor="middle">0</text>
<line x1="647.70" y1="422.40" x2="647.70" y2="424.40" stroke="#444" stroke-width="0.5"/>
<text x="647.70" y="432.81" font-size="6.3" text-anchor="middle">0.2</text>
<line x1="665.00" y1="422.40" x2="665.00" y2="424.40" stroke="#444" stroke-width="0.5"/>
<text x="665.00" y="432.81" font-size="6.3" text-anchor="middle">0.4</text>
<text x="612.60" y="342.40" font-size="7.5" text-anchor="middle">Post exposure to βOHB</text>
<text x="616.00" y="443.20" font-size="7.5" text-anchor="middle">log<tspan font-size="70%" dy="1.5">2</tspan><tspan dy="-1.5">(FC)</tspan></text>
<text x="542.50" y="360.70" font-size="6.3" text-anchor="end" style="stroke-width:.1px">Kinesin-20</text>
<text x="542.50" y="373.85" font-size="5.6" text-anchor="end" font-style="italic" style="stroke-width:.1px">MyoA</text>
<text x="542.50" y="387.00" font-size="5.6" text-anchor="end" font-style="italic" style="stroke-width:.1px">GAP45</text>
<text x="542.50" y="400.15" font-size="5.6" text-anchor="end" font-style="italic" style="stroke-width:.1px">MTIP</text>
<text x="542.50" y="413.30" font-size="5.6" text-anchor="end" font-style="italic" style="stroke-width:.1px">GAC</text>
<text x="505.20" y="311.00" font-size="7.9" text-anchor="middle" transform="rotate(-90.00 505.20 311.00)" dominant-baseline="central">Locomotion</text>
<line x1="511.60" y1="203.00" x2="511.60" y2="416.60" stroke="#333" stroke-width="0.8"/>
<line x1="671.90" y1="194.20" x2="671.90" y2="422.40" stroke="#666" stroke-width="1.0"/>
<text x="677.10" y="314.80" font-size="7.7" text-anchor="middle" transform="rotate(90.00 677.10 314.80)" dominant-baseline="central">Merozoite</text>
<text transform="translate(-0.30 474.60) scale(1.16 1)" font-size="11.6" font-weight="bold" fill="#000" stroke="#000" style="stroke-width:.35px">j</text>
<path d="M120.76 581.20L121.63 508.91A93.80 93.80 0 0 1 141.85 511.36L125.39 581.76A21.50 21.50 0 0 0 120.76 581.20Z" fill="#D5EDBF"/>
<text font-size="7.0" transform="translate(132.11 507.10) rotate(-79.08)" x="0" y="-1.61">Merozoite</text>
<text font-size="7.0" transform="translate(132.11 507.10) rotate(-79.08)" x="0" y="6.37">proteins</text>
<path d="M125.90 581.89L143.19 515.19A90.40 90.40 0 0 1 161.54 522.15L130.26 583.54A21.50 21.50 0 0 0 125.90 581.89Z" fill="#D5EDBF"/>
<text font-size="7.0" transform="translate(153.44 515.84) rotate(-65.23)" x="0" y="2.38">Proteins localiz</text>
<path d="M130.72 583.78L157.91 533.46A78.70 78.70 0 0 1 171.97 543.17L134.56 586.44A21.50 21.50 0 0 0 130.72 583.78Z" fill="#D5EDBF"/>
<text font-size="7.0" transform="translate(166.63 535.87) rotate(-51.38)" x="0" y="2.38">Meroz_RBC lig</text>
<path d="M134.95 586.78L169.03 549.24A72.20 72.20 0 0 1 179.42 560.97L138.05 590.27A21.50 21.50 0 0 0 134.95 586.78Z" fill="#D5EDBF"/>
<text font-size="7.0" transform="translate(176.41 553.16) rotate(-37.54)" x="0" y="2.38">Ligand and receptor</text>
<path d="M138.34 590.70L174.44 566.42A65.00 65.00 0 0 1 180.99 578.92L140.51 594.83A21.50 21.50 0 0 0 138.34 590.70Z" fill="#D5EDBF"/>
<text font-size="7.0" transform="translate(180.27 571.33) rotate(-23.69)" x="0" y="2.38">Dom surface prot</text>
<path d="M140.69 595.32L170.84 584.30A53.60 53.60 0 0 1 173.63 595.60L141.81 599.85A21.50 21.50 0 0 0 140.69 595.32Z" fill="#D5EDBF"/>
<text font-size="6.44" transform="translate(174.97 589.27) rotate(-9.85)" x="0" y="2.19">cGMP_PKG</text>
<path d="M141.87 600.37L170.11 597.28A49.90 49.90 0 0 1 170.11 608.12L141.87 605.03A21.50 21.50 0 0 0 141.87 600.37Z" fill="#D5EDBF"/>
<text font-size="6.44" transform="translate(172.90 602.70) rotate(4.00)" x="0" y="2.19">RON_ROP</text>
<path d="M141.81 605.55L168.97 609.18A48.90 48.90 0 0 1 166.43 619.49L140.69 610.08A21.50 21.50 0 0 0 141.81 605.55Z" fill="#D5EDBF"/>
<text font-size="7.0" transform="translate(170.41 615.00) rotate(17.85)" x="0" y="2.38">Erythrocyte invasion</text>
<path d="M140.51 610.57L151.21 614.77A33.00 33.00 0 0 1 147.88 621.12L138.34 614.70A21.50 21.50 0 0 0 140.51 610.57Z" fill="#D5EDBF"/>
<text font-size="6.02" transform="translate(151.93 619.20) rotate(31.69)" x="0" y="2.05">MSPDBL_MSP1</text>
<path d="M134.56 618.96L150.52 637.42A45.90 45.90 0 0 1 142.32 643.08L130.72 621.62A21.50 21.50 0 0 0 134.56 618.96Z" fill="#D0E5F1"/>
<text font-size="7.0" transform="translate(147.99 642.53) rotate(59.38)" x="0" y="2.38">Coli_orth</text>
<path d="M125.39 623.64L135.54 667.07A66.10 66.10 0 0 1 121.30 668.80L120.76 624.20A21.50 21.50 0 0 0 125.39 623.64Z" fill="#8FCB8C"/>
<text font-size="7.0" transform="translate(128.77 670.80) rotate(87.08)" x="0" y="-1.61">Linear</text>
<text font-size="7.0" transform="translate(128.77 670.80) rotate(87.08)" x="0" y="6.37">motor</text>
<path d="M120.24 624.20L119.94 649.20A46.50 46.50 0 0 1 109.92 647.98L115.61 623.64A21.50 21.50 0 0 0 120.24 624.20Z" fill="#8FCB8C"/>
<text font-size="6.44" text-anchor="end" transform="translate(114.59 651.34) rotate(-79.08)" x="0" y="2.19">IMC</text>
<path d="M110.28 621.62L105.14 631.12A32.30 32.30 0 0 1 99.37 627.13L106.44 618.96A21.50 21.50 0 0 0 110.28 621.62Z" fill="#FCCBCB"/>
<text font-size="7.0" text-anchor="end" transform="translate(100.73 631.34) rotate(-51.38)" x="0" y="2.38">Interac_prot</text>
<path d="M102.66 614.70L74.36 633.73A55.60 55.60 0 0 1 68.76 623.04L100.49 610.57A21.50 21.50 0 0 0 102.66 614.70Z" fill="#EE8385"/>
<text font-size="7.0" text-anchor="end" transform="translate(69.06 629.70) rotate(-23.69)" x="0" y="2.38">Phospho_mero</text>
<path d="M99.13 605.03L36.30 611.89A84.70 84.70 0 0 1 36.30 593.51L99.13 600.37A21.50 21.50 0 0 0 99.13 605.03Z" fill="#FDDDB3"/>
<text font-size="7.0" text-anchor="end" transform="translate(33.30 602.70) rotate(4.00)" x="0" y="2.38">Ubiq_conj</text>
<path d="M100.49 594.83L61.40 579.47A63.50 63.50 0 0 1 67.81 567.26L102.66 590.70A21.50 21.50 0 0 0 100.49 594.83Z" fill="#FDB873"/>
<text font-size="6.44" text-anchor="end" transform="translate(62.06 572.03) rotate(31.69)" x="0" y="2.19">Prot_RMVs</text>
<path d="M102.95 590.27L70.72 567.44A61.00 61.00 0 0 1 79.50 557.53L106.05 586.78A21.50 21.50 0 0 0 102.95 590.27Z" fill="#FDB873"/>
<text font-size="7.0" text-anchor="end" transform="translate(72.97 560.59) rotate(45.54)" x="0" y="2.38">Lipid_raft</text>
<path d="M110.74 583.54L95.35 553.34A55.40 55.40 0 0 1 106.59 549.07L115.10 581.89A21.50 21.50 0 0 0 110.74 583.54Z" fill="#AF96CA"/>
<text font-size="7.0" text-anchor="end" transform="translate(99.97 548.56) rotate(73.23)" x="0" y="2.38">Transl_regul</text>
<text x="118.31" y="583.56" font-size="6.5" text-anchor="end">0</text>
<text x="117.27" y="574.98" font-size="6.5" text-anchor="end">2</text>
<text x="116.23" y="566.40" font-size="6.5" text-anchor="end">4</text>
<text x="115.18" y="557.83" font-size="6.5" text-anchor="end">6</text>
<text x="114.14" y="549.25" font-size="6.5" text-anchor="end">8</text>
<text x="113.10" y="540.67" font-size="6.5" text-anchor="end">10</text>
<text x="112.06" y="532.09" font-size="6.5" text-anchor="end">12</text>
<text x="111.02" y="523.52" font-size="6.5" text-anchor="end">14</text>
<text x="109.98" y="514.94" font-size="6.5" text-anchor="end">16</text>
<text x="108.94" y="506.36" font-size="6.5" text-anchor="end">18</text>
<text x="120.50" y="601.70" font-size="6.9" text-anchor="middle">Merozoite</text>
<text x="120.50" y="609.50" font-size="6.9" text-anchor="middle">down</text>
<text x="97.90" y="489.20" font-size="7.0" text-anchor="middle">−log<tspan font-size="70%" dy="1.4">10</tspan><tspan dy="-1.4">(</tspan><tspan font-style="italic">P</tspan>)</text>
<text transform="translate(258.20 474.70) scale(1.16 1)" font-size="11.6" font-weight="bold" fill="#000" stroke="#000" style="stroke-width:.35px">k</text>
<path d="M347.24 582.20L348.40 479.01A125.00 125.00 0 0 1 373.45 481.83L351.61 582.69A21.80 21.80 0 0 0 347.24 582.20Z" fill="#FDDDB3"/>
<path d="M356.68 584.47L366.49 564.66A43.90 43.90 0 0 1 373.98 569.37L360.40 586.80A21.80 21.80 0 0 0 356.68 584.47Z" fill="#86B4D7"/>
<text font-size="7.0" transform="translate(371.69 564.71) rotate(-53.86)" x="0" y="2.38">prot PV</text>
<path d="M364.20 590.60L398.03 564.23A64.70 64.70 0 0 1 404.97 575.28L366.53 594.32A21.80 21.80 0 0 0 364.20 590.60Z" fill="#D5EDBF"/>
<text font-size="7.0" transform="translate(403.90 568.25) rotate(-28.14)" x="0" y="2.38">Dom surface prot</text>
<path d="M366.75 594.76L388.85 584.42A46.20 46.20 0 0 1 391.92 593.21L368.20 598.91A21.80 21.80 0 0 0 366.75 594.76Z" fill="#D5EDBF"/>
<text font-size="7.0" transform="translate(392.97 587.92) rotate(-15.29)" x="0" y="2.38">Erythrocyte invasion</text>
<path d="M368.31 599.39L420.30 588.13A75.00 75.00 0 0 1 422.00 603.16L368.80 603.76A21.80 21.80 0 0 0 368.31 599.39Z" fill="#D5EDBF"/>
<text font-size="7.0" transform="translate(424.01 595.32) rotate(-2.43)" x="0" y="2.38">Ligand and receptor</text>
<path d="M368.80 604.24L433.29 604.97A86.30 86.30 0 0 1 431.35 622.26L368.31 608.61A21.80 21.80 0 0 0 368.80 604.24Z" fill="#D5EDBF"/>
<text font-size="7.0" transform="translate(435.24 613.94) rotate(10.43)" x="0" y="2.38">meroz_RBC lig</text>
<path d="M368.20 609.09L436.46 625.48A92.00 92.00 0 0 1 430.33 642.98L366.75 613.24A21.80 21.80 0 0 0 368.20 609.09Z" fill="#D5EDBF"/>
<text font-size="7.0" transform="translate(436.20 635.21) rotate(23.29)" x="0" y="2.38">Merozoite proteins</text>
<path d="M366.53 613.68L424.69 642.49A86.70 86.70 0 0 1 415.39 657.29L364.20 617.40A21.80 21.80 0 0 0 366.53 613.68Z" fill="#D5EDBF"/>
<text font-size="7.0" transform="translate(422.53 651.46) rotate(36.14)" x="0" y="2.38">Proteins localiz</text>
<path d="M363.89 617.78L383.65 633.90A47.30 47.30 0 0 1 376.90 640.65L360.78 620.89A21.80 21.80 0 0 0 363.89 617.78Z" fill="#D5EDBF"/>
<text font-size="6.44" transform="translate(382.21 639.21) rotate(49.00)" x="0" y="2.19">RON_ROP</text>
<path d="M356.24 623.75L365.22 642.95A43.00 43.00 0 0 1 357.04 645.81L352.09 625.20A21.80 21.80 0 0 0 356.24 623.75Z" fill="#8FCB8C"/>
<text font-size="6.44" transform="translate(362.03 646.95) rotate(74.71)" x="0" y="2.19">IMC</text>
<path d="M351.61 625.31L356.73 648.96A46.00 46.00 0 0 1 347.52 650.00L347.24 625.80A21.80 21.80 0 0 0 351.61 625.31Z" fill="#8FCB8C"/>
<text font-size="7.0" transform="translate(352.43 652.20) rotate(87.57)" x="0" y="2.38">linear motor</text>
<path d="M341.91 625.20L336.80 646.49A43.70 43.70 0 0 1 328.48 643.58L337.76 623.75A21.80 21.80 0 0 0 341.91 625.20Z" fill="#FCCBCB"/>
<text font-size="7.0" text-anchor="end" transform="translate(331.74 647.61) rotate(-66.71)" x="0" y="2.38">DRM_prot</text>
<path d="M337.32 623.53L308.82 681.06A86.00 86.00 0 0 1 294.14 671.83L333.60 621.20A21.80 21.80 0 0 0 337.32 623.53Z" fill="#EE8385"/>
<text font-size="7.0" text-anchor="end" transform="translate(299.92 678.94) rotate(-53.86)" x="0" y="-1.61">Phospho_</text>
<text font-size="7.0" text-anchor="end" transform="translate(299.92 678.94) rotate(-53.86)" x="0" y="6.37">mero</text>
<path d="M333.22 620.89L305.65 654.67A65.40 65.40 0 0 1 296.33 645.35L330.11 617.78A21.80 21.80 0 0 0 333.22 620.89Z" fill="#EE8385"/>
<text font-size="7.0" text-anchor="end" transform="translate(298.99 652.01) rotate(-41.00)" x="0" y="2.38">Phospo prot</text>
<path d="M329.80 617.40L306.14 635.84A51.80 51.80 0 0 1 300.58 627.00L327.47 613.68A21.80 21.80 0 0 0 329.80 617.40Z" fill="#D0E5F1"/>
<text font-size="7.0" text-anchor="end" transform="translate(301.02 632.89) rotate(-28.14)" x="0" y="2.38">Coli_orth</text>
<path d="M325.69 608.61L272.04 620.23A76.70 76.70 0 0 1 270.30 604.86L325.20 604.24A21.80 21.80 0 0 0 325.69 608.61Z" fill="#FDB873"/>
<text font-size="7.0" text-anchor="end" transform="translate(268.30 612.87) rotate(-2.43)" x="0" y="2.38">Lipid_raft</text>
<path d="M325.20 603.76L283.00 603.28A64.00 64.00 0 0 1 284.45 590.46L325.69 599.39A21.80 21.80 0 0 0 325.20 603.76Z" fill="#FDB873"/>
<text font-size="6.44" text-anchor="end" transform="translate(280.92 596.55) rotate(10.43)" x="0" y="2.19">Prot_RMVs</text>
<path d="M327.47 594.32L302.56 581.98A49.60 49.60 0 0 1 307.88 573.51L329.80 590.60A21.80 21.80 0 0 0 327.47 594.32Z" fill="#E5D9EB"/>
<text font-size="7.0" text-anchor="end" transform="translate(302.89 576.28) rotate(36.14)" x="0" y="2.38">Hi_Var</text>
<path d="M333.60 586.80L312.89 560.22A55.50 55.50 0 0 1 322.36 554.27L337.32 584.47A21.80 21.80 0 0 0 333.60 586.80Z" fill="#AF96CA"/>
<text font-size="7.0" text-anchor="end" transform="translate(316.14 554.89) rotate(61.86)" x="0" y="2.38">Polyam</text>
<path d="M337.76 584.25L324.29 555.45A53.60 53.60 0 0 1 334.49 551.88L341.91 582.80A21.80 21.80 0 0 0 337.76 584.25Z" fill="#AF96CA"/>
<text font-size="7.0" text-anchor="end" transform="translate(328.47 551.05) rotate(74.71)" x="0" y="2.38">Transl_regul</text>
<text x="344.96" y="584.54" font-size="6.5" text-anchor="end">0</text>
<text x="344.02" y="576.23" font-size="6.5" text-anchor="end">2</text>
<text x="343.09" y="567.92" font-size="6.5" text-anchor="end">4</text>
<text x="342.15" y="559.61" font-size="6.5" text-anchor="end">6</text>
<text x="341.22" y="551.31" font-size="6.5" text-anchor="end">8</text>
<text x="340.28" y="543.00" font-size="6.5" text-anchor="end">10</text>
<text x="339.34" y="534.69" font-size="6.5" text-anchor="end">12</text>
<text x="338.41" y="526.39" font-size="6.5" text-anchor="end">14</text>
<text x="337.47" y="518.08" font-size="6.5" text-anchor="end">16</text>
<text x="336.53" y="509.77" font-size="6.5" text-anchor="end">18</text>
<text x="335.60" y="501.46" font-size="6.5" text-anchor="end">20</text>
<text x="334.66" y="493.16" font-size="6.5" text-anchor="end">22</text>
<text x="333.73" y="484.85" font-size="6.5" text-anchor="end">24</text>
<text x="347.00" y="604.00" font-size="6.9" text-anchor="middle">Early ring</text>
<text x="347.00" y="611.80" font-size="6.9" text-anchor="middle">down</text>
<text x="347.50" y="475.00" font-size="7.0" transform="rotate(4.00 347.50 475.00)">Ubiq_conj</text>
<text x="318.80" y="474.20" font-size="7.0" text-anchor="middle">−log<tspan font-size="70%" dy="1.4">10</tspan><tspan dy="-1.4">(</tspan><tspan font-style="italic">P</tspan>)</text>
<text x="501.90" y="533.60" font-size="7.6">Group</text>
<rect x="502.90" y="539.70" width="7.70" height="7.40" fill="#D5EDBF"/>
<text x="513.80" y="544.90" font-size="6.3" fill="#3322E4" stroke="#3322E4" style="stroke-width:.08px">Invasion</text>
<rect x="502.90" y="552.96" width="7.70" height="7.40" fill="#8FCB8C"/>
<text x="513.80" y="558.16" font-size="6.3" fill="#3322E4" stroke="#3322E4" style="stroke-width:.08px">Motility</text>
<rect x="502.90" y="566.22" width="7.70" height="7.40" fill="#FDDDB3"/>
<text x="513.80" y="571.42" font-size="6.3" fill="#3322E4" stroke="#3322E4" style="stroke-width:.08px">Post-translational – ubiquitin-dependent processes</text>
<rect x="502.90" y="579.48" width="7.70" height="7.40" fill="#FCCBCB"/>
<text x="513.80" y="584.68" font-size="6.3" style="stroke-width:.08px">Post-translational – other protein modifications</text>
<rect x="502.90" y="592.74" width="7.70" height="7.40" fill="#EE8385"/>
<text x="513.80" y="597.94" font-size="6.3" style="stroke-width:.08px">Post-translational – single amino acid modification</text>
<rect x="502.90" y="606.00" width="7.70" height="7.40" fill="#FDB873"/>
<text x="513.80" y="611.20" font-size="6.3" style="stroke-width:.08px">Protein export</text>
<rect x="502.90" y="619.26" width="7.70" height="7.40" fill="#AF96CA"/>
<text x="513.80" y="624.46" font-size="6.3" style="stroke-width:.08px">Translation</text>
<rect x="502.90" y="632.52" width="7.70" height="7.40" fill="#86B4D7"/>
<text x="513.80" y="637.72" font-size="6.3" style="stroke-width:.08px">Intracellular traffic</text>
<rect x="502.90" y="645.78" width="7.70" height="7.40" fill="#E5D9EB"/>
<text x="513.80" y="650.98" font-size="6.3" style="stroke-width:.08px">Replication</text>
<rect x="502.90" y="659.04" width="7.70" height="7.40" fill="#D0E5F1"/>
<text x="513.80" y="664.24" font-size="6.3" style="stroke-width:.08px">Chromosome structure (mitosis and chromosome separation)</text>
<path d="M1.7 702.8V709.6Q1.7 711.6 3.9 711.4" fill="none" stroke="#000" stroke-width="2.1"/>
<text x="27.20" y="734.90" font-size="6.9">KDa</text>
<text x="48.60" y="734.90" font-size="6.9">Marker</text>
<text x="88.30" y="735.80" font-size="7.7" transform="rotate(-43.00 88.30 735.80)">Control</text>
<text x="116.30" y="735.40" font-size="7.4" transform="rotate(-43.00 116.30 735.40)">βOHB</text>
<text x="146.60" y="735.40" font-size="7.1" transform="rotate(-43.00 146.60 735.40)">βOHB + NAD</text>
<defs><filter id="b1" x="-20%" y="-80%" width="140%" height="260%"><feGaussianBlur stdDeviation="1.1"/></filter><filter id="b2" x="-20%" y="-80%" width="140%" height="260%"><feGaussianBlur stdDeviation="0.8"/></filter><linearGradient id="bg1" x1="0" x2="1" y1="0" y2="0"><stop offset="0" stop-color="#EDEDED"/><stop offset="0.5" stop-color="#F4F4F4"/><stop offset="1" stop-color="#E9E9E9"/></linearGradient><clipPath id="c1"><rect x="50.1" y="738.3" width="111.6" height="30.1"/></clipPath><clipPath id="c2"><rect x="50.1" y="779.5" width="113.5" height="26"/></clipPath><clipPath id="c3"><rect x="50.1" y="813.2" width="111.6" height="40"/></clipPath></defs>
<rect x="50.10" y="738.30" width="111.60" height="30.10" fill="url(#bg1)"/>
<g clip-path="url(#c1)">
<rect x="53.6" y="742.4" width="20.4" height="2.4" rx="1.2" fill="#888" opacity="0.7" filter="url(#b2)"/>
<rect x="54.0" y="752.7" width="19.0" height="2.2" rx="1.1" fill="#aaa" opacity="0.35" filter="url(#b2)"/>
<rect x="53.6" y="763.4" width="20.4" height="2.4" rx="1.2" fill="#888" opacity="0.65" filter="url(#b2)"/>
<g filter="url(#b1)" opacity="1" fill="#000"><rect x="80.0" y="754.8" width="21.8" height="3.5" rx="1.8"/><ellipse cx="90.9" cy="756.6" rx="10.2" ry="2.7"/></g>
<g filter="url(#b1)" opacity="1" fill="#000"><rect x="108.5" y="755.3" width="22.5" height="3.3" rx="1.7"/><ellipse cx="119.8" cy="757.0" rx="10.6" ry="2.6"/></g>
<g filter="url(#b1)" opacity="1" fill="#000"><rect x="137.0" y="754.3" width="22.6" height="3.5" rx="1.7"/><ellipse cx="148.3" cy="756.0" rx="10.6" ry="2.7"/></g>
<rect x="80.0" y="748.5" width="80.0" height="6.0" rx="3.0" fill="#888" opacity="0.25" filter="url(#b1)"/>
</g>
<rect x="50.10" y="738.30" width="111.60" height="30.10" fill="none" stroke="#222" stroke-width="0.7"/>
<text x="43.40" y="743.60" font-size="6.9" text-anchor="end">95</text>
<text x="43.40" y="756.80" font-size="6.9" text-anchor="end">72</text>
<text x="43.40" y="766.70" font-size="6.9" text-anchor="end">55</text>
<text x="168.90" y="757.90" font-size="6.9">HSP70</text>
<rect x="50.10" y="779.50" width="113.50" height="26.00" fill="url(#bg1)"/>
<g clip-path="url(#c2)">
<rect x="53.6" y="782.9" width="20.4" height="2.0" rx="1.0" fill="#999" opacity="0.5" filter="url(#b2)"/>
<g filter="url(#b2)" opacity="1" fill="#000"><rect x="76.0" y="783.8" width="22.8" height="3.0" rx="1.5"/><ellipse cx="87.4" cy="785.3" rx="10.7" ry="2.4"/></g>
<rect x="108.0" y="784.8" width="21.5" height="2.4" rx="1.2" fill="#555" opacity="0.6" filter="url(#b2)"/>
<g filter="url(#b2)" opacity="0.92" fill="#111"><rect x="137.0" y="784.8" width="23.0" height="1.9" rx="1.0"/><ellipse cx="148.5" cy="785.8" rx="10.8" ry="1.5"/></g>
<rect x="76.0" y="796.2" width="84.0" height="2.5" rx="1.2" fill="#999" opacity="0.25" filter="url(#b1)"/>
</g>
<rect x="50.10" y="779.50" width="113.50" height="26.00" fill="none" stroke="#222" stroke-width="0.7"/>
<path d="M166.2 780.1H47.7V792.3H166.2" fill="none" stroke="#111" stroke-width="0.9" stroke-dasharray="2.5 1.9"/>
<path d="M166.2 780.1V792.3" fill="none" stroke="#111" stroke-width="0.9" stroke-dasharray="2.5 1.9"/>
<text x="43.40" y="784.20" font-size="6.9" text-anchor="end">55</text>
<text x="43.40" y="792.40" font-size="6.9" text-anchor="end">40</text>
<text x="43.40" y="801.10" font-size="6.9" text-anchor="end">33</text>
<text x="168.90" y="788.90" font-size="6.9">MTIP-MYC</text>
<rect x="50.10" y="813.20" width="111.60" height="40.00" fill="url(#bg1)"/>
<g clip-path="url(#c3)">
<rect x="53.6" y="817.5" width="20.4" height="2.2" rx="1.1" fill="#999" opacity="0.55" filter="url(#b2)"/>
<rect x="53.6" y="826.6" width="20.4" height="2.2" rx="1.1" fill="#999" opacity="0.55" filter="url(#b2)"/>
<rect x="102.0" y="823.4" width="58.0" height="2.6" rx="1.3" fill="#888" opacity="0.5" filter="url(#b2)"/>
<rect x="80.0" y="824.3" width="20.0" height="2.4" rx="1.2" fill="#aaa" opacity="0.25" filter="url(#b2)"/>
<rect x="50.0" y="841.0" width="113.0" height="10.0" rx="5.0" fill="#999" opacity="0.35" filter="url(#b1)"/>
<g filter="url(#b2)" opacity="1" fill="#000"><rect x="76.0" y="843.6" width="22.8" height="3.2" rx="1.6"/><ellipse cx="87.4" cy="845.2" rx="10.7" ry="2.5"/></g>
<rect x="106.0" y="844.7" width="25.0" height="2.6" rx="1.3" fill="#444" opacity="0.75" filter="url(#b2)"/>
<g filter="url(#b2)" opacity="1" fill="#000"><rect x="135.2" y="843.1" width="24.9" height="3.5" rx="1.7"/><ellipse cx="147.6" cy="844.8" rx="11.7" ry="2.7"/></g>
</g>
<rect x="50.10" y="813.20" width="111.60" height="40.00" fill="none" stroke="#222" stroke-width="0.7"/>
<path d="M166.2 836.4H47.7V849.6H166.2" fill="none" stroke="#111" stroke-width="0.9" stroke-dasharray="2.5 1.9"/>
<path d="M166.2 836.4V849.6" fill="none" stroke="#111" stroke-width="0.9" stroke-dasharray="2.5 1.9"/>
<text x="43.40" y="817.20" font-size="6.9" text-anchor="end">33</text>
<text x="43.40" y="828.90" font-size="6.9" text-anchor="end">25</text>
<text x="43.40" y="846.40" font-size="6.9" text-anchor="end">15</text>
<text x="168.90" y="843.50" font-size="6.9">MSP1<tspan font-size="72%" dy="1.8">19</tspan></text>
</svg>
</body></html>
